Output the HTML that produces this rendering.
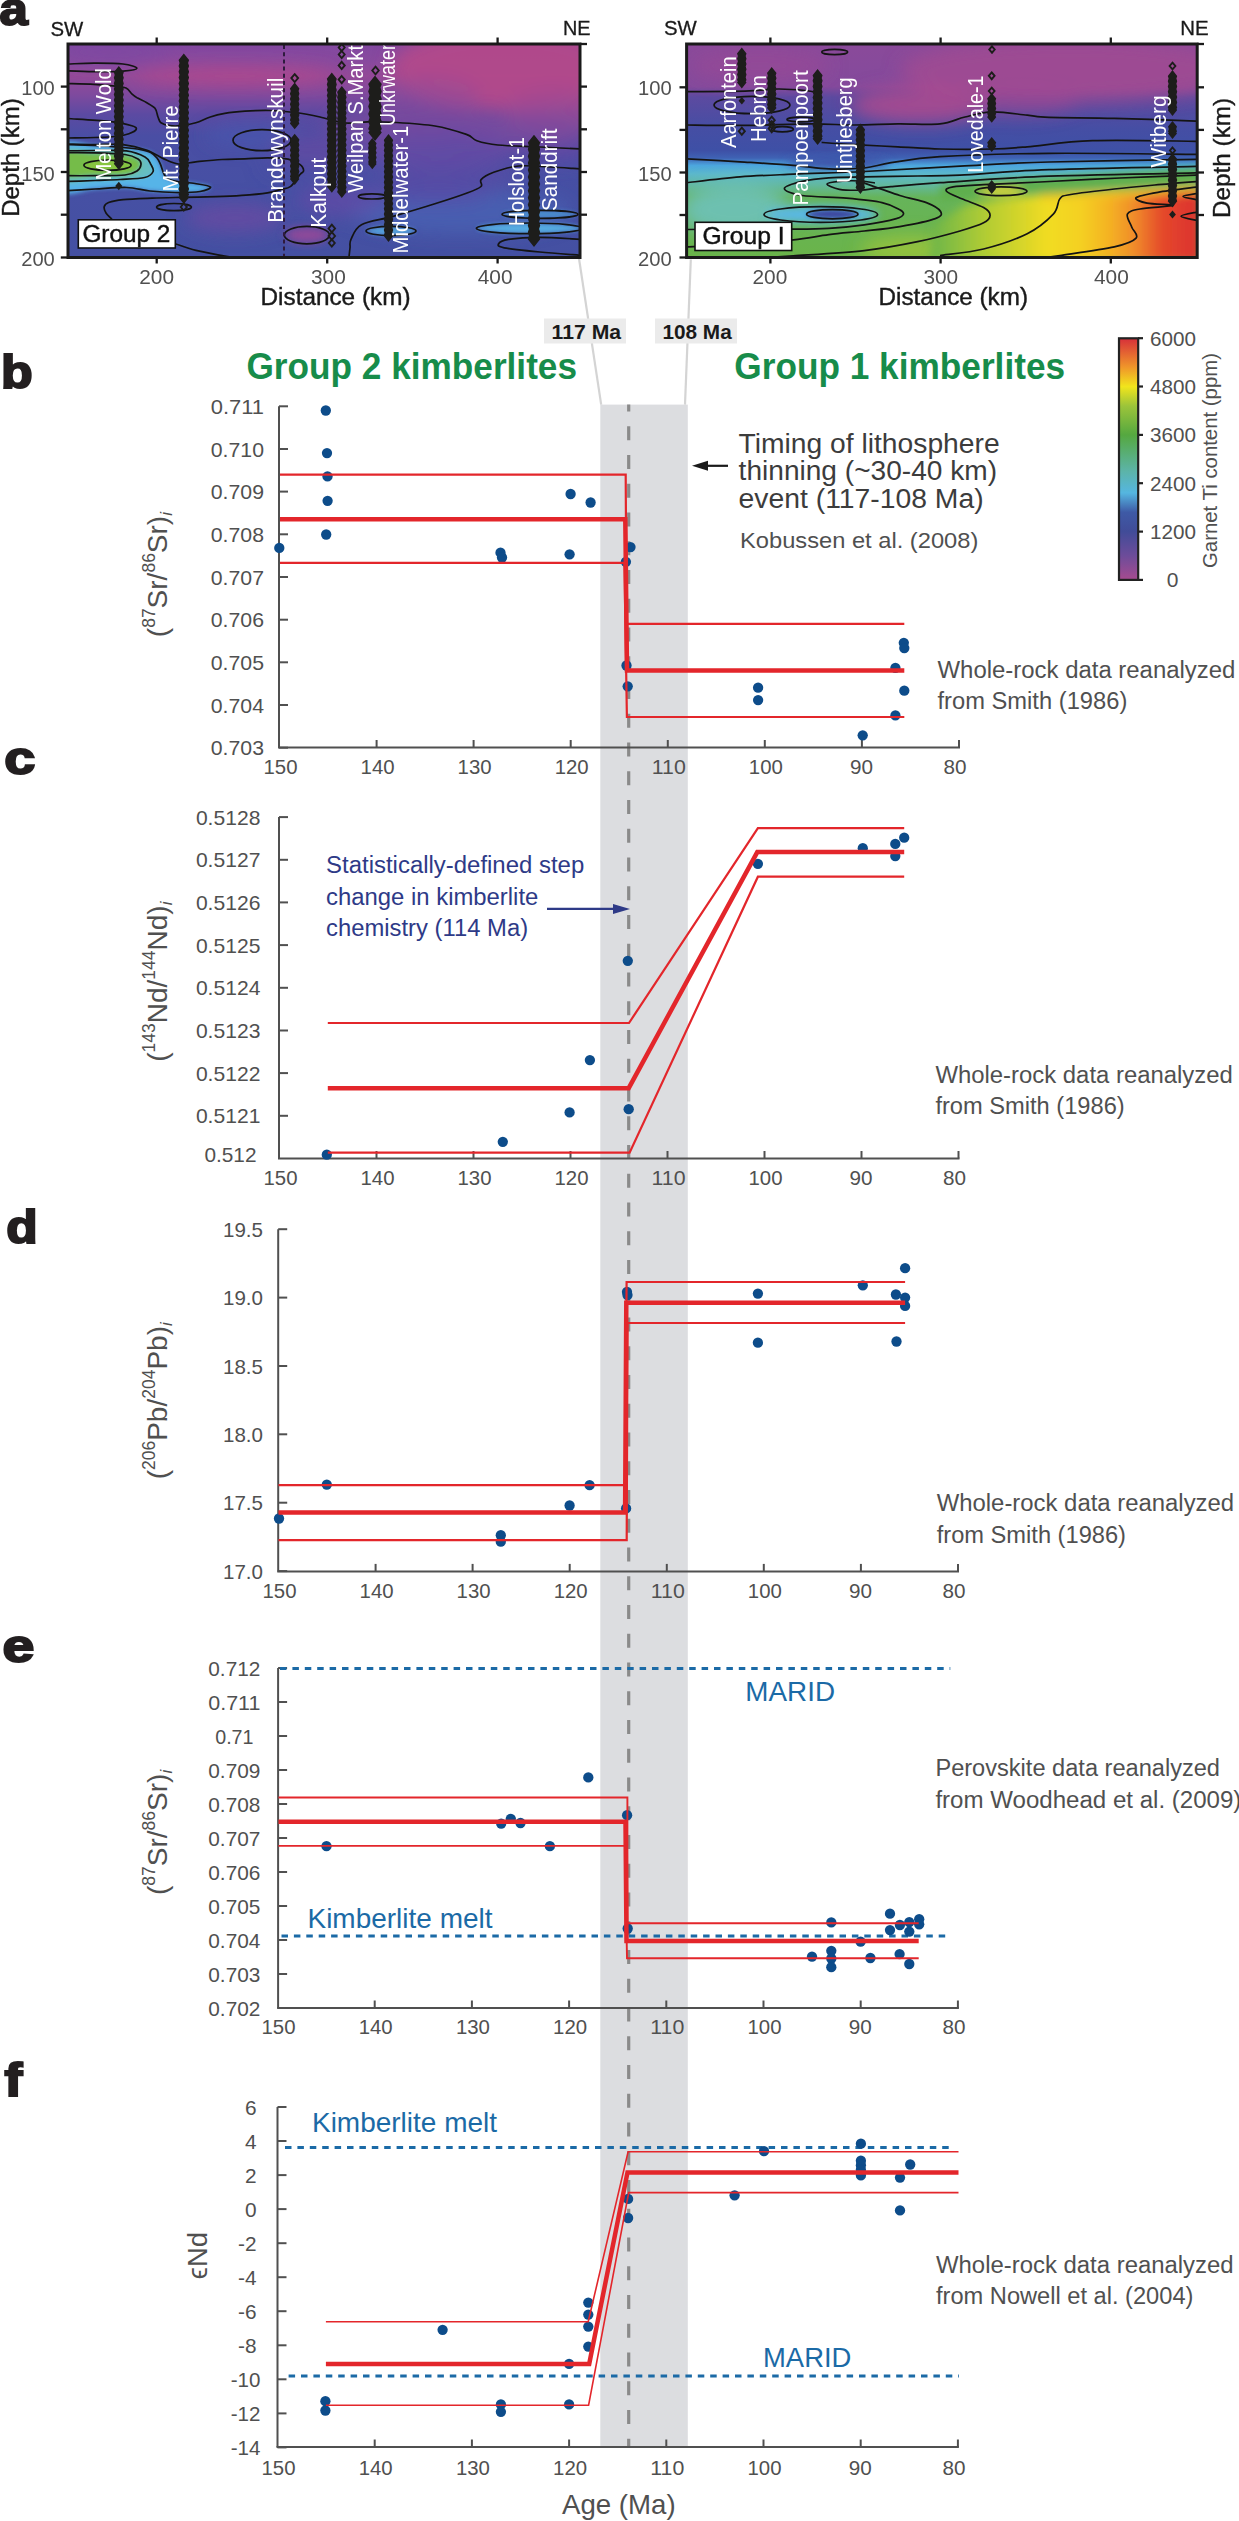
<!DOCTYPE html>
<html><head><meta charset="utf-8"><style>html,body{margin:0;padding:0;background:#fff;overflow:hidden;}svg{display:block;}</style></head><body>
<svg width="1239" height="2521" viewBox="0 0 1239 2521" font-family='"Liberation Sans", sans-serif'>
<rect width="1239" height="2521" fill="#fff"/>
<rect x="600.3" y="404.6" width="87.5" height="2042.4" fill="#dcdde0"/>
<line x1="579.0" y1="258.5" x2="601.2" y2="404.6" stroke="#d4d4d4" stroke-width="2.2" />
<line x1="690.8" y1="259.5" x2="685.0" y2="404.6" stroke="#d4d4d4" stroke-width="2.2" />
<rect x="544" y="318.5" width="82" height="25" fill="#ebebeb"/>
<rect x="655" y="318.5" width="82" height="25" fill="#ebebeb"/>
<text x="551.6" y="338.8" font-size="21" fill="#1a1a1a" font-weight="bold" text-anchor="start" textLength="69.5" lengthAdjust="spacingAndGlyphs" >117 Ma</text>
<text x="662.4" y="338.8" font-size="21" fill="#1a1a1a" font-weight="bold" text-anchor="start" textLength="69.3" lengthAdjust="spacingAndGlyphs" >108 Ma</text>
<line x1="628.7" y1="404.6" x2="628.7" y2="2447.0" stroke="#8a8a8a" stroke-width="3.2" stroke-dasharray="14 14.75" stroke-dashoffset="7.2"/>
<text x="246.5" y="378.8" font-size="37" fill="#178c4a" font-weight="bold" text-anchor="start" textLength="330.5" lengthAdjust="spacingAndGlyphs" >Group 2 kimberlites</text>
<text x="734.3" y="378.8" font-size="37" fill="#178c4a" font-weight="bold" text-anchor="start" textLength="330.8" lengthAdjust="spacingAndGlyphs" >Group 1 kimberlites</text>
<text transform="matrix(0.5088 0 0 0.4576 -0.51 25.23)" font-size="100" font-weight="bold" fill="#231f20" stroke="#231f20" stroke-width="4.5">a</text>
<text transform="matrix(0.5182 0 0 0.4679 1.03 388.00)" font-size="100" font-weight="bold" fill="#231f20" stroke="#231f20" stroke-width="4.5">b</text>
<text transform="matrix(0.5585 0 0 0.4559 4.18 774.43)" font-size="100" font-weight="bold" fill="#231f20" stroke="#231f20" stroke-width="4.5">c</text>
<text transform="matrix(0.5145 0 0 0.4564 6.27 1243.23)" font-size="100" font-weight="bold" fill="#231f20" stroke="#231f20" stroke-width="4.5">d</text>
<text transform="matrix(0.5731 0 0 0.4559 2.45 1661.53)" font-size="100" font-weight="bold" fill="#231f20" stroke="#231f20" stroke-width="4.5">e</text>
<text transform="matrix(0.5351 0 0 0.4688 4.44 2095.66)" font-size="100" font-weight="bold" fill="#231f20" stroke="#231f20" stroke-width="4.5">f</text>
<line x1="279.0" y1="406.3" x2="279.0" y2="747.5" stroke="#505050" stroke-width="2" />
<line x1="279.0" y1="406.3" x2="288.0" y2="406.3" stroke="#505050" stroke-width="2" />
<line x1="279.0" y1="449.0" x2="288.0" y2="449.0" stroke="#505050" stroke-width="2" />
<line x1="279.0" y1="491.6" x2="288.0" y2="491.6" stroke="#505050" stroke-width="2" />
<line x1="279.0" y1="534.3" x2="288.0" y2="534.3" stroke="#505050" stroke-width="2" />
<line x1="279.0" y1="577.0" x2="288.0" y2="577.0" stroke="#505050" stroke-width="2" />
<line x1="279.0" y1="619.7" x2="288.0" y2="619.7" stroke="#505050" stroke-width="2" />
<line x1="279.0" y1="662.3" x2="288.0" y2="662.3" stroke="#505050" stroke-width="2" />
<line x1="279.0" y1="705.0" x2="288.0" y2="705.0" stroke="#505050" stroke-width="2" />
<line x1="279.0" y1="747.7" x2="288.0" y2="747.7" stroke="#505050" stroke-width="2" />
<line x1="278.0" y1="747.5" x2="960.0" y2="747.5" stroke="#505050" stroke-width="2" />
<line x1="376.6" y1="747.5" x2="376.6" y2="740.0" stroke="#505050" stroke-width="2" />
<line x1="473.6" y1="747.5" x2="473.6" y2="740.0" stroke="#505050" stroke-width="2" />
<line x1="570.7" y1="747.5" x2="570.7" y2="740.0" stroke="#505050" stroke-width="2" />
<line x1="667.8" y1="747.5" x2="667.8" y2="740.0" stroke="#505050" stroke-width="2" />
<line x1="764.8" y1="747.5" x2="764.8" y2="740.0" stroke="#505050" stroke-width="2" />
<line x1="861.9" y1="747.5" x2="861.9" y2="740.0" stroke="#505050" stroke-width="2" />
<line x1="959.0" y1="747.5" x2="959.0" y2="740.0" stroke="#505050" stroke-width="2" />
<text x="280.5" y="773.5" font-size="20" fill="#505050" font-weight="normal" text-anchor="middle" textLength="34.0" lengthAdjust="spacingAndGlyphs" >150</text>
<text x="377.6" y="773.5" font-size="20" fill="#505050" font-weight="normal" text-anchor="middle" textLength="34.0" lengthAdjust="spacingAndGlyphs" >140</text>
<text x="474.6" y="773.5" font-size="20" fill="#505050" font-weight="normal" text-anchor="middle" textLength="34.0" lengthAdjust="spacingAndGlyphs" >130</text>
<text x="571.7" y="773.5" font-size="20" fill="#505050" font-weight="normal" text-anchor="middle" textLength="34.0" lengthAdjust="spacingAndGlyphs" >120</text>
<text x="668.8" y="773.5" font-size="20" fill="#505050" font-weight="normal" text-anchor="middle" textLength="34.0" lengthAdjust="spacingAndGlyphs" >110</text>
<text x="765.8" y="773.5" font-size="20" fill="#505050" font-weight="normal" text-anchor="middle" textLength="34.0" lengthAdjust="spacingAndGlyphs" >100</text>
<text x="861.4" y="773.5" font-size="20" fill="#505050" font-weight="normal" text-anchor="middle" textLength="23.0" lengthAdjust="spacingAndGlyphs" >90</text>
<text x="955.0" y="773.5" font-size="20" fill="#505050" font-weight="normal" text-anchor="middle" textLength="23.0" lengthAdjust="spacingAndGlyphs" >80</text>
<text x="210.8" y="413.9" font-size="21" fill="#505050" font-weight="normal" text-anchor="start" textLength="53.2" lengthAdjust="spacingAndGlyphs" >0.711</text>
<text x="210.8" y="456.6" font-size="21" fill="#505050" font-weight="normal" text-anchor="start" textLength="53.2" lengthAdjust="spacingAndGlyphs" >0.710</text>
<text x="210.8" y="499.2" font-size="21" fill="#505050" font-weight="normal" text-anchor="start" textLength="53.2" lengthAdjust="spacingAndGlyphs" >0.709</text>
<text x="210.8" y="541.9" font-size="21" fill="#505050" font-weight="normal" text-anchor="start" textLength="53.2" lengthAdjust="spacingAndGlyphs" >0.708</text>
<text x="210.8" y="584.6" font-size="21" fill="#505050" font-weight="normal" text-anchor="start" textLength="53.2" lengthAdjust="spacingAndGlyphs" >0.707</text>
<text x="210.8" y="627.3" font-size="21" fill="#505050" font-weight="normal" text-anchor="start" textLength="53.2" lengthAdjust="spacingAndGlyphs" >0.706</text>
<text x="210.8" y="669.9" font-size="21" fill="#505050" font-weight="normal" text-anchor="start" textLength="53.2" lengthAdjust="spacingAndGlyphs" >0.705</text>
<text x="210.8" y="712.6" font-size="21" fill="#505050" font-weight="normal" text-anchor="start" textLength="53.2" lengthAdjust="spacingAndGlyphs" >0.704</text>
<text x="210.8" y="755.3" font-size="21" fill="#505050" font-weight="normal" text-anchor="start" textLength="53.2" lengthAdjust="spacingAndGlyphs" >0.703</text>
<circle cx="325.8" cy="410.5" r="5.15" fill="#0d4c8a"/>
<circle cx="327.0" cy="453.1" r="5.15" fill="#0d4c8a"/>
<circle cx="327.5" cy="476.4" r="5.15" fill="#0d4c8a"/>
<circle cx="327.6" cy="500.8" r="5.15" fill="#0d4c8a"/>
<circle cx="326.2" cy="534.5" r="5.15" fill="#0d4c8a"/>
<circle cx="279.3" cy="547.9" r="5.15" fill="#0d4c8a"/>
<circle cx="500.5" cy="552.7" r="5.15" fill="#0d4c8a"/>
<circle cx="502.0" cy="557.5" r="5.15" fill="#0d4c8a"/>
<circle cx="570.6" cy="494.0" r="5.15" fill="#0d4c8a"/>
<circle cx="590.6" cy="502.5" r="5.15" fill="#0d4c8a"/>
<circle cx="569.6" cy="554.3" r="5.15" fill="#0d4c8a"/>
<circle cx="630.5" cy="547.1" r="5.15" fill="#0d4c8a"/>
<circle cx="625.9" cy="561.8" r="5.15" fill="#0d4c8a"/>
<circle cx="626.5" cy="665.5" r="5.15" fill="#0d4c8a"/>
<circle cx="627.7" cy="686.3" r="5.15" fill="#0d4c8a"/>
<circle cx="903.8" cy="642.8" r="5.15" fill="#0d4c8a"/>
<circle cx="904.3" cy="648.1" r="5.15" fill="#0d4c8a"/>
<circle cx="895.4" cy="667.8" r="5.15" fill="#0d4c8a"/>
<circle cx="904.3" cy="690.7" r="5.15" fill="#0d4c8a"/>
<circle cx="895.4" cy="715.4" r="5.15" fill="#0d4c8a"/>
<circle cx="758.1" cy="687.7" r="5.15" fill="#0d4c8a"/>
<circle cx="758.1" cy="700.1" r="5.15" fill="#0d4c8a"/>
<circle cx="862.7" cy="735.3" r="5.15" fill="#0d4c8a"/>
<polyline points="280.0,474.6 625.7,474.6 626.5,623.8 904.3,623.8" fill="none" stroke="#e3262b" stroke-width="2.2" stroke-linejoin="miter" />
<polyline points="280.0,562.8 624.4,562.8 626.9,717.0 904.3,717.0" fill="none" stroke="#e3262b" stroke-width="2.2" stroke-linejoin="miter" />
<polyline points="280.0,519.2 625.3,519.2 627.0,670.6 904.3,670.6" fill="none" stroke="#e3262b" stroke-width="4.5" stroke-linejoin="miter" />
<line x1="279.0" y1="817.1" x2="279.0" y2="1158.5" stroke="#505050" stroke-width="2" />
<line x1="279.0" y1="817.1" x2="288.0" y2="817.1" stroke="#505050" stroke-width="2" />
<line x1="279.0" y1="859.8" x2="288.0" y2="859.8" stroke="#505050" stroke-width="2" />
<line x1="279.0" y1="902.4" x2="288.0" y2="902.4" stroke="#505050" stroke-width="2" />
<line x1="279.0" y1="945.1" x2="288.0" y2="945.1" stroke="#505050" stroke-width="2" />
<line x1="279.0" y1="987.8" x2="288.0" y2="987.8" stroke="#505050" stroke-width="2" />
<line x1="279.0" y1="1030.5" x2="288.0" y2="1030.5" stroke="#505050" stroke-width="2" />
<line x1="279.0" y1="1073.1" x2="288.0" y2="1073.1" stroke="#505050" stroke-width="2" />
<line x1="279.0" y1="1115.8" x2="288.0" y2="1115.8" stroke="#505050" stroke-width="2" />
<line x1="278.0" y1="1158.5" x2="959.5" y2="1158.5" stroke="#505050" stroke-width="2" />
<line x1="376.5" y1="1158.5" x2="376.5" y2="1151.0" stroke="#505050" stroke-width="2" />
<line x1="473.5" y1="1158.5" x2="473.5" y2="1151.0" stroke="#505050" stroke-width="2" />
<line x1="570.5" y1="1158.5" x2="570.5" y2="1151.0" stroke="#505050" stroke-width="2" />
<line x1="667.5" y1="1158.5" x2="667.5" y2="1151.0" stroke="#505050" stroke-width="2" />
<line x1="764.5" y1="1158.5" x2="764.5" y2="1151.0" stroke="#505050" stroke-width="2" />
<line x1="861.5" y1="1158.5" x2="861.5" y2="1151.0" stroke="#505050" stroke-width="2" />
<line x1="958.5" y1="1158.5" x2="958.5" y2="1151.0" stroke="#505050" stroke-width="2" />
<text x="280.5" y="1185.0" font-size="20" fill="#505050" font-weight="normal" text-anchor="middle" textLength="34.0" lengthAdjust="spacingAndGlyphs" >150</text>
<text x="377.5" y="1185.0" font-size="20" fill="#505050" font-weight="normal" text-anchor="middle" textLength="34.0" lengthAdjust="spacingAndGlyphs" >140</text>
<text x="474.5" y="1185.0" font-size="20" fill="#505050" font-weight="normal" text-anchor="middle" textLength="34.0" lengthAdjust="spacingAndGlyphs" >130</text>
<text x="571.5" y="1185.0" font-size="20" fill="#505050" font-weight="normal" text-anchor="middle" textLength="34.0" lengthAdjust="spacingAndGlyphs" >120</text>
<text x="668.5" y="1185.0" font-size="20" fill="#505050" font-weight="normal" text-anchor="middle" textLength="34.0" lengthAdjust="spacingAndGlyphs" >110</text>
<text x="765.5" y="1185.0" font-size="20" fill="#505050" font-weight="normal" text-anchor="middle" textLength="34.0" lengthAdjust="spacingAndGlyphs" >100</text>
<text x="861.0" y="1185.0" font-size="20" fill="#505050" font-weight="normal" text-anchor="middle" textLength="23.0" lengthAdjust="spacingAndGlyphs" >90</text>
<text x="954.5" y="1185.0" font-size="20" fill="#505050" font-weight="normal" text-anchor="middle" textLength="23.0" lengthAdjust="spacingAndGlyphs" >80</text>
<text x="195.9" y="824.7" font-size="21" fill="#505050" font-weight="normal" text-anchor="start" textLength="64.5" lengthAdjust="spacingAndGlyphs" >0.5128</text>
<text x="195.9" y="867.4" font-size="21" fill="#505050" font-weight="normal" text-anchor="start" textLength="64.5" lengthAdjust="spacingAndGlyphs" >0.5127</text>
<text x="195.9" y="910.0" font-size="21" fill="#505050" font-weight="normal" text-anchor="start" textLength="64.5" lengthAdjust="spacingAndGlyphs" >0.5126</text>
<text x="195.9" y="952.7" font-size="21" fill="#505050" font-weight="normal" text-anchor="start" textLength="64.5" lengthAdjust="spacingAndGlyphs" >0.5125</text>
<text x="195.9" y="995.4" font-size="21" fill="#505050" font-weight="normal" text-anchor="start" textLength="64.5" lengthAdjust="spacingAndGlyphs" >0.5124</text>
<text x="195.9" y="1038.0" font-size="21" fill="#505050" font-weight="normal" text-anchor="start" textLength="64.5" lengthAdjust="spacingAndGlyphs" >0.5123</text>
<text x="195.9" y="1080.7" font-size="21" fill="#505050" font-weight="normal" text-anchor="start" textLength="64.5" lengthAdjust="spacingAndGlyphs" >0.5122</text>
<text x="195.9" y="1123.4" font-size="21" fill="#505050" font-weight="normal" text-anchor="start" textLength="64.5" lengthAdjust="spacingAndGlyphs" >0.5121</text>
<text x="204.4" y="1162.1" font-size="21" fill="#505050" font-weight="normal" text-anchor="start" textLength="52.1" lengthAdjust="spacingAndGlyphs" >0.512</text>
<circle cx="326.8" cy="1154.7" r="5.15" fill="#0d4c8a"/>
<circle cx="502.8" cy="1141.8" r="5.15" fill="#0d4c8a"/>
<circle cx="569.6" cy="1112.4" r="5.15" fill="#0d4c8a"/>
<circle cx="589.9" cy="1060.1" r="5.15" fill="#0d4c8a"/>
<circle cx="628.7" cy="1109.2" r="5.15" fill="#0d4c8a"/>
<circle cx="627.8" cy="960.8" r="5.15" fill="#0d4c8a"/>
<circle cx="757.9" cy="863.8" r="5.15" fill="#0d4c8a"/>
<circle cx="862.8" cy="848.2" r="5.15" fill="#0d4c8a"/>
<circle cx="895.3" cy="843.9" r="5.15" fill="#0d4c8a"/>
<circle cx="904.2" cy="837.7" r="5.15" fill="#0d4c8a"/>
<circle cx="895.3" cy="856.1" r="5.15" fill="#0d4c8a"/>
<polyline points="327.8,1023.0 629.0,1023.0 757.9,828.2 904.2,828.2" fill="none" stroke="#e3262b" stroke-width="2.2" stroke-linejoin="miter" />
<polyline points="327.8,1152.7 629.6,1152.7 757.9,876.7 904.2,876.7" fill="none" stroke="#e3262b" stroke-width="2.2" stroke-linejoin="miter" />
<polyline points="327.8,1088.2 628.7,1088.2 757.3,852.1 904.2,852.1" fill="none" stroke="#e3262b" stroke-width="4.5" stroke-linejoin="miter" />
<line x1="278.2" y1="1229.2" x2="278.2" y2="1571.4" stroke="#505050" stroke-width="2" />
<line x1="278.2" y1="1229.2" x2="287.2" y2="1229.2" stroke="#505050" stroke-width="2" />
<line x1="278.2" y1="1297.6" x2="287.2" y2="1297.6" stroke="#505050" stroke-width="2" />
<line x1="278.2" y1="1366.0" x2="287.2" y2="1366.0" stroke="#505050" stroke-width="2" />
<line x1="278.2" y1="1434.3" x2="287.2" y2="1434.3" stroke="#505050" stroke-width="2" />
<line x1="278.2" y1="1502.7" x2="287.2" y2="1502.7" stroke="#505050" stroke-width="2" />
<line x1="278.2" y1="1571.1" x2="287.2" y2="1571.1" stroke="#505050" stroke-width="2" />
<line x1="277.2" y1="1571.4" x2="959.0" y2="1571.4" stroke="#505050" stroke-width="2" />
<line x1="375.6" y1="1571.4" x2="375.6" y2="1563.9" stroke="#505050" stroke-width="2" />
<line x1="472.6" y1="1571.4" x2="472.6" y2="1563.9" stroke="#505050" stroke-width="2" />
<line x1="569.7" y1="1571.4" x2="569.7" y2="1563.9" stroke="#505050" stroke-width="2" />
<line x1="666.8" y1="1571.4" x2="666.8" y2="1563.9" stroke="#505050" stroke-width="2" />
<line x1="763.8" y1="1571.4" x2="763.8" y2="1563.9" stroke="#505050" stroke-width="2" />
<line x1="860.9" y1="1571.4" x2="860.9" y2="1563.9" stroke="#505050" stroke-width="2" />
<line x1="958.0" y1="1571.4" x2="958.0" y2="1563.9" stroke="#505050" stroke-width="2" />
<text x="279.5" y="1597.5" font-size="20" fill="#505050" font-weight="normal" text-anchor="middle" textLength="34.0" lengthAdjust="spacingAndGlyphs" >150</text>
<text x="376.6" y="1597.5" font-size="20" fill="#505050" font-weight="normal" text-anchor="middle" textLength="34.0" lengthAdjust="spacingAndGlyphs" >140</text>
<text x="473.6" y="1597.5" font-size="20" fill="#505050" font-weight="normal" text-anchor="middle" textLength="34.0" lengthAdjust="spacingAndGlyphs" >130</text>
<text x="570.7" y="1597.5" font-size="20" fill="#505050" font-weight="normal" text-anchor="middle" textLength="34.0" lengthAdjust="spacingAndGlyphs" >120</text>
<text x="667.8" y="1597.5" font-size="20" fill="#505050" font-weight="normal" text-anchor="middle" textLength="34.0" lengthAdjust="spacingAndGlyphs" >110</text>
<text x="764.8" y="1597.5" font-size="20" fill="#505050" font-weight="normal" text-anchor="middle" textLength="34.0" lengthAdjust="spacingAndGlyphs" >100</text>
<text x="860.4" y="1597.5" font-size="20" fill="#505050" font-weight="normal" text-anchor="middle" textLength="23.0" lengthAdjust="spacingAndGlyphs" >90</text>
<text x="954.0" y="1597.5" font-size="20" fill="#505050" font-weight="normal" text-anchor="middle" textLength="23.0" lengthAdjust="spacingAndGlyphs" >80</text>
<text x="223.0" y="1236.8" font-size="21" fill="#505050" font-weight="normal" text-anchor="start" textLength="40.0" lengthAdjust="spacingAndGlyphs" >19.5</text>
<text x="223.0" y="1305.2" font-size="21" fill="#505050" font-weight="normal" text-anchor="start" textLength="40.0" lengthAdjust="spacingAndGlyphs" >19.0</text>
<text x="223.0" y="1373.6" font-size="21" fill="#505050" font-weight="normal" text-anchor="start" textLength="40.0" lengthAdjust="spacingAndGlyphs" >18.5</text>
<text x="223.0" y="1441.9" font-size="21" fill="#505050" font-weight="normal" text-anchor="start" textLength="40.0" lengthAdjust="spacingAndGlyphs" >18.0</text>
<text x="223.0" y="1510.3" font-size="21" fill="#505050" font-weight="normal" text-anchor="start" textLength="40.0" lengthAdjust="spacingAndGlyphs" >17.5</text>
<text x="223.0" y="1578.7" font-size="21" fill="#505050" font-weight="normal" text-anchor="start" textLength="40.0" lengthAdjust="spacingAndGlyphs" >17.0</text>
<circle cx="279.0" cy="1518.5" r="5.15" fill="#0d4c8a"/>
<circle cx="326.8" cy="1484.6" r="5.15" fill="#0d4c8a"/>
<circle cx="500.8" cy="1535.2" r="5.15" fill="#0d4c8a"/>
<circle cx="500.8" cy="1541.7" r="5.15" fill="#0d4c8a"/>
<circle cx="569.6" cy="1505.5" r="5.15" fill="#0d4c8a"/>
<circle cx="589.6" cy="1485.2" r="5.15" fill="#0d4c8a"/>
<circle cx="626.1" cy="1508.4" r="5.15" fill="#0d4c8a"/>
<circle cx="627.0" cy="1292.0" r="5.15" fill="#0d4c8a"/>
<circle cx="627.5" cy="1295.1" r="5.15" fill="#0d4c8a"/>
<circle cx="757.9" cy="1293.6" r="5.15" fill="#0d4c8a"/>
<circle cx="757.9" cy="1342.7" r="5.15" fill="#0d4c8a"/>
<circle cx="862.8" cy="1285.3" r="5.15" fill="#0d4c8a"/>
<circle cx="905.1" cy="1268.2" r="5.15" fill="#0d4c8a"/>
<circle cx="895.9" cy="1294.5" r="5.15" fill="#0d4c8a"/>
<circle cx="905.1" cy="1297.6" r="5.15" fill="#0d4c8a"/>
<circle cx="905.1" cy="1305.9" r="5.15" fill="#0d4c8a"/>
<circle cx="896.5" cy="1341.5" r="5.15" fill="#0d4c8a"/>
<polyline points="278.5,1485.2 625.1,1485.2 626.6,1282.0 905.1,1282.0" fill="none" stroke="#e3262b" stroke-width="2.2" stroke-linejoin="miter" />
<polyline points="278.5,1540.1 626.7,1540.1 627.5,1323.0 905.1,1323.0" fill="none" stroke="#e3262b" stroke-width="2.2" stroke-linejoin="miter" />
<polyline points="278.5,1512.6 625.1,1512.6 626.3,1302.8 905.1,1302.8" fill="none" stroke="#e3262b" stroke-width="4.5" stroke-linejoin="miter" />
<line x1="278.1" y1="1668.0" x2="278.1" y2="2008.0" stroke="#505050" stroke-width="2" />
<line x1="278.1" y1="1668.0" x2="287.1" y2="1668.0" stroke="#505050" stroke-width="2" />
<line x1="278.1" y1="1702.0" x2="287.1" y2="1702.0" stroke="#505050" stroke-width="2" />
<line x1="278.1" y1="1736.0" x2="287.1" y2="1736.0" stroke="#505050" stroke-width="2" />
<line x1="278.1" y1="1770.0" x2="287.1" y2="1770.0" stroke="#505050" stroke-width="2" />
<line x1="278.1" y1="1804.0" x2="287.1" y2="1804.0" stroke="#505050" stroke-width="2" />
<line x1="278.1" y1="1838.0" x2="287.1" y2="1838.0" stroke="#505050" stroke-width="2" />
<line x1="278.1" y1="1872.0" x2="287.1" y2="1872.0" stroke="#505050" stroke-width="2" />
<line x1="278.1" y1="1906.0" x2="287.1" y2="1906.0" stroke="#505050" stroke-width="2" />
<line x1="278.1" y1="1940.0" x2="287.1" y2="1940.0" stroke="#505050" stroke-width="2" />
<line x1="278.1" y1="1974.0" x2="287.1" y2="1974.0" stroke="#505050" stroke-width="2" />
<line x1="278.1" y1="2008.0" x2="287.1" y2="2008.0" stroke="#505050" stroke-width="2" />
<line x1="277.1" y1="2008.0" x2="958.9" y2="2008.0" stroke="#505050" stroke-width="2" />
<line x1="374.7" y1="2008.0" x2="374.7" y2="2000.5" stroke="#505050" stroke-width="2" />
<line x1="471.9" y1="2008.0" x2="471.9" y2="2000.5" stroke="#505050" stroke-width="2" />
<line x1="569.1" y1="2008.0" x2="569.1" y2="2000.5" stroke="#505050" stroke-width="2" />
<line x1="666.3" y1="2008.0" x2="666.3" y2="2000.5" stroke="#505050" stroke-width="2" />
<line x1="763.5" y1="2008.0" x2="763.5" y2="2000.5" stroke="#505050" stroke-width="2" />
<line x1="860.7" y1="2008.0" x2="860.7" y2="2000.5" stroke="#505050" stroke-width="2" />
<line x1="957.9" y1="2008.0" x2="957.9" y2="2000.5" stroke="#505050" stroke-width="2" />
<text x="278.5" y="2034.0" font-size="20" fill="#505050" font-weight="normal" text-anchor="middle" textLength="34.0" lengthAdjust="spacingAndGlyphs" >150</text>
<text x="375.7" y="2034.0" font-size="20" fill="#505050" font-weight="normal" text-anchor="middle" textLength="34.0" lengthAdjust="spacingAndGlyphs" >140</text>
<text x="472.9" y="2034.0" font-size="20" fill="#505050" font-weight="normal" text-anchor="middle" textLength="34.0" lengthAdjust="spacingAndGlyphs" >130</text>
<text x="570.1" y="2034.0" font-size="20" fill="#505050" font-weight="normal" text-anchor="middle" textLength="34.0" lengthAdjust="spacingAndGlyphs" >120</text>
<text x="667.3" y="2034.0" font-size="20" fill="#505050" font-weight="normal" text-anchor="middle" textLength="34.0" lengthAdjust="spacingAndGlyphs" >110</text>
<text x="764.5" y="2034.0" font-size="20" fill="#505050" font-weight="normal" text-anchor="middle" textLength="34.0" lengthAdjust="spacingAndGlyphs" >100</text>
<text x="860.2" y="2034.0" font-size="20" fill="#505050" font-weight="normal" text-anchor="middle" textLength="23.0" lengthAdjust="spacingAndGlyphs" >90</text>
<text x="953.9" y="2034.0" font-size="20" fill="#505050" font-weight="normal" text-anchor="middle" textLength="23.0" lengthAdjust="spacingAndGlyphs" >80</text>
<text x="208.3" y="1675.6" font-size="21" fill="#505050" font-weight="normal" text-anchor="start" textLength="52.1" lengthAdjust="spacingAndGlyphs" >0.712</text>
<text x="208.3" y="1709.6" font-size="21" fill="#505050" font-weight="normal" text-anchor="start" textLength="52.1" lengthAdjust="spacingAndGlyphs" >0.711</text>
<text x="215.2" y="1743.6" font-size="21" fill="#505050" font-weight="normal" text-anchor="start" textLength="38.3" lengthAdjust="spacingAndGlyphs" >0.71</text>
<text x="208.3" y="1777.6" font-size="21" fill="#505050" font-weight="normal" text-anchor="start" textLength="52.1" lengthAdjust="spacingAndGlyphs" >0.709</text>
<text x="208.3" y="1811.6" font-size="21" fill="#505050" font-weight="normal" text-anchor="start" textLength="52.1" lengthAdjust="spacingAndGlyphs" >0.708</text>
<text x="208.3" y="1845.6" font-size="21" fill="#505050" font-weight="normal" text-anchor="start" textLength="52.1" lengthAdjust="spacingAndGlyphs" >0.707</text>
<text x="208.3" y="1879.6" font-size="21" fill="#505050" font-weight="normal" text-anchor="start" textLength="52.1" lengthAdjust="spacingAndGlyphs" >0.706</text>
<text x="208.3" y="1913.6" font-size="21" fill="#505050" font-weight="normal" text-anchor="start" textLength="52.1" lengthAdjust="spacingAndGlyphs" >0.705</text>
<text x="208.3" y="1947.6" font-size="21" fill="#505050" font-weight="normal" text-anchor="start" textLength="52.1" lengthAdjust="spacingAndGlyphs" >0.704</text>
<text x="208.3" y="1981.6" font-size="21" fill="#505050" font-weight="normal" text-anchor="start" textLength="52.1" lengthAdjust="spacingAndGlyphs" >0.703</text>
<text x="208.3" y="2015.6" font-size="21" fill="#505050" font-weight="normal" text-anchor="start" textLength="52.1" lengthAdjust="spacingAndGlyphs" >0.702</text>
<line x1="280.0" y1="1668.4" x2="950.3" y2="1668.4" stroke="#1b6aa6" stroke-width="3" stroke-dasharray="6.5 5.9"/>
<line x1="281.5" y1="1936.0" x2="948.0" y2="1936.0" stroke="#1b6aa6" stroke-width="3" stroke-dasharray="6.5 5.9"/>
<circle cx="326.5" cy="1846.2" r="5.15" fill="#0d4c8a"/>
<circle cx="501.2" cy="1823.6" r="5.15" fill="#0d4c8a"/>
<circle cx="510.8" cy="1818.8" r="5.15" fill="#0d4c8a"/>
<circle cx="520.5" cy="1823.0" r="5.15" fill="#0d4c8a"/>
<circle cx="549.9" cy="1846.2" r="5.15" fill="#0d4c8a"/>
<circle cx="588.3" cy="1777.4" r="5.15" fill="#0d4c8a"/>
<circle cx="627.1" cy="1815.2" r="5.15" fill="#0d4c8a"/>
<circle cx="627.7" cy="1928.5" r="5.15" fill="#0d4c8a"/>
<circle cx="831.3" cy="1922.4" r="5.15" fill="#0d4c8a"/>
<circle cx="890.0" cy="1913.7" r="5.15" fill="#0d4c8a"/>
<circle cx="890.0" cy="1930.1" r="5.15" fill="#0d4c8a"/>
<circle cx="899.9" cy="1925.0" r="5.15" fill="#0d4c8a"/>
<circle cx="909.3" cy="1922.1" r="5.15" fill="#0d4c8a"/>
<circle cx="909.3" cy="1931.6" r="5.15" fill="#0d4c8a"/>
<circle cx="919.2" cy="1919.2" r="5.15" fill="#0d4c8a"/>
<circle cx="919.2" cy="1924.3" r="5.15" fill="#0d4c8a"/>
<circle cx="860.6" cy="1941.7" r="5.15" fill="#0d4c8a"/>
<circle cx="812.0" cy="1956.6" r="5.15" fill="#0d4c8a"/>
<circle cx="831.3" cy="1950.8" r="5.15" fill="#0d4c8a"/>
<circle cx="831.3" cy="1958.5" r="5.15" fill="#0d4c8a"/>
<circle cx="831.3" cy="1967.2" r="5.15" fill="#0d4c8a"/>
<circle cx="870.4" cy="1958.0" r="5.15" fill="#0d4c8a"/>
<circle cx="899.6" cy="1954.1" r="5.15" fill="#0d4c8a"/>
<circle cx="909.3" cy="1964.0" r="5.15" fill="#0d4c8a"/>
<polyline points="278.5,1797.5 627.4,1797.5 627.4,1923.3 918.7,1923.3" fill="none" stroke="#e3262b" stroke-width="1.9" stroke-linejoin="miter" />
<polyline points="278.5,1845.9 625.0,1845.9 627.0,1958.2 918.7,1958.2" fill="none" stroke="#e3262b" stroke-width="1.9" stroke-linejoin="miter" />
<polyline points="278.5,1821.7 625.5,1821.7 626.5,1941.0 918.7,1941.0" fill="none" stroke="#e3262b" stroke-width="4.5" stroke-linejoin="miter" />
<text x="745.3" y="1701.3" font-size="27.5" fill="#1b6aa6" font-weight="normal" text-anchor="start" textLength="89.7" lengthAdjust="spacingAndGlyphs" >MARID</text>
<text x="307.5" y="1927.5" font-size="28" fill="#1b6aa6" font-weight="normal" text-anchor="start" textLength="185.0" lengthAdjust="spacingAndGlyphs" >Kimberlite melt</text>
<line x1="277.5" y1="2107.0" x2="277.5" y2="2447.0" stroke="#505050" stroke-width="2" />
<line x1="277.5" y1="2107.0" x2="286.5" y2="2107.0" stroke="#505050" stroke-width="2" />
<line x1="277.5" y1="2141.0" x2="286.5" y2="2141.0" stroke="#505050" stroke-width="2" />
<line x1="277.5" y1="2175.1" x2="286.5" y2="2175.1" stroke="#505050" stroke-width="2" />
<line x1="277.5" y1="2209.1" x2="286.5" y2="2209.1" stroke="#505050" stroke-width="2" />
<line x1="277.5" y1="2243.2" x2="286.5" y2="2243.2" stroke="#505050" stroke-width="2" />
<line x1="277.5" y1="2277.2" x2="286.5" y2="2277.2" stroke="#505050" stroke-width="2" />
<line x1="277.5" y1="2311.2" x2="286.5" y2="2311.2" stroke="#505050" stroke-width="2" />
<line x1="277.5" y1="2345.3" x2="286.5" y2="2345.3" stroke="#505050" stroke-width="2" />
<line x1="277.5" y1="2379.3" x2="286.5" y2="2379.3" stroke="#505050" stroke-width="2" />
<line x1="277.5" y1="2413.4" x2="286.5" y2="2413.4" stroke="#505050" stroke-width="2" />
<line x1="277.5" y1="2447.4" x2="286.5" y2="2447.4" stroke="#505050" stroke-width="2" />
<line x1="276.5" y1="2447.0" x2="958.9" y2="2447.0" stroke="#505050" stroke-width="2" />
<line x1="374.7" y1="2447.0" x2="374.7" y2="2439.5" stroke="#505050" stroke-width="2" />
<line x1="471.9" y1="2447.0" x2="471.9" y2="2439.5" stroke="#505050" stroke-width="2" />
<line x1="569.1" y1="2447.0" x2="569.1" y2="2439.5" stroke="#505050" stroke-width="2" />
<line x1="666.3" y1="2447.0" x2="666.3" y2="2439.5" stroke="#505050" stroke-width="2" />
<line x1="763.5" y1="2447.0" x2="763.5" y2="2439.5" stroke="#505050" stroke-width="2" />
<line x1="860.7" y1="2447.0" x2="860.7" y2="2439.5" stroke="#505050" stroke-width="2" />
<line x1="957.9" y1="2447.0" x2="957.9" y2="2439.5" stroke="#505050" stroke-width="2" />
<text x="278.5" y="2474.5" font-size="20" fill="#505050" font-weight="normal" text-anchor="middle" textLength="34.0" lengthAdjust="spacingAndGlyphs" >150</text>
<text x="375.7" y="2474.5" font-size="20" fill="#505050" font-weight="normal" text-anchor="middle" textLength="34.0" lengthAdjust="spacingAndGlyphs" >140</text>
<text x="472.9" y="2474.5" font-size="20" fill="#505050" font-weight="normal" text-anchor="middle" textLength="34.0" lengthAdjust="spacingAndGlyphs" >130</text>
<text x="570.1" y="2474.5" font-size="20" fill="#505050" font-weight="normal" text-anchor="middle" textLength="34.0" lengthAdjust="spacingAndGlyphs" >120</text>
<text x="667.3" y="2474.5" font-size="20" fill="#505050" font-weight="normal" text-anchor="middle" textLength="34.0" lengthAdjust="spacingAndGlyphs" >110</text>
<text x="764.5" y="2474.5" font-size="20" fill="#505050" font-weight="normal" text-anchor="middle" textLength="34.0" lengthAdjust="spacingAndGlyphs" >100</text>
<text x="860.2" y="2474.5" font-size="20" fill="#505050" font-weight="normal" text-anchor="middle" textLength="23.0" lengthAdjust="spacingAndGlyphs" >90</text>
<text x="953.9" y="2474.5" font-size="20" fill="#505050" font-weight="normal" text-anchor="middle" textLength="23.0" lengthAdjust="spacingAndGlyphs" >80</text>
<text x="244.9" y="2114.6" font-size="21" fill="#505050" font-weight="normal" text-anchor="start" textLength="11.6" lengthAdjust="spacingAndGlyphs" >6</text>
<text x="244.9" y="2148.6" font-size="21" fill="#505050" font-weight="normal" text-anchor="start" textLength="11.6" lengthAdjust="spacingAndGlyphs" >4</text>
<text x="244.9" y="2182.7" font-size="21" fill="#505050" font-weight="normal" text-anchor="start" textLength="11.6" lengthAdjust="spacingAndGlyphs" >2</text>
<text x="244.9" y="2216.7" font-size="21" fill="#505050" font-weight="normal" text-anchor="start" textLength="11.6" lengthAdjust="spacingAndGlyphs" >0</text>
<text x="238.0" y="2250.8" font-size="21" fill="#505050" font-weight="normal" text-anchor="start" textLength="18.5" lengthAdjust="spacingAndGlyphs" >-2</text>
<text x="238.0" y="2284.8" font-size="21" fill="#505050" font-weight="normal" text-anchor="start" textLength="18.5" lengthAdjust="spacingAndGlyphs" >-4</text>
<text x="238.0" y="2318.8" font-size="21" fill="#505050" font-weight="normal" text-anchor="start" textLength="18.5" lengthAdjust="spacingAndGlyphs" >-6</text>
<text x="238.0" y="2352.9" font-size="21" fill="#505050" font-weight="normal" text-anchor="start" textLength="18.5" lengthAdjust="spacingAndGlyphs" >-8</text>
<text x="230.7" y="2386.9" font-size="21" fill="#505050" font-weight="normal" text-anchor="start" textLength="29.7" lengthAdjust="spacingAndGlyphs" >-10</text>
<text x="230.7" y="2421.0" font-size="21" fill="#505050" font-weight="normal" text-anchor="start" textLength="29.7" lengthAdjust="spacingAndGlyphs" >-12</text>
<text x="230.7" y="2455.0" font-size="21" fill="#505050" font-weight="normal" text-anchor="start" textLength="29.7" lengthAdjust="spacingAndGlyphs" >-14</text>
<line x1="285.0" y1="2147.5" x2="950.0" y2="2147.5" stroke="#1b6aa6" stroke-width="3" stroke-dasharray="6.5 5.9"/>
<line x1="288.6" y1="2375.9" x2="959.0" y2="2375.9" stroke="#1b6aa6" stroke-width="3" stroke-dasharray="6.5 5.9"/>
<circle cx="325.4" cy="2401.2" r="5.15" fill="#0d4c8a"/>
<circle cx="325.4" cy="2410.5" r="5.15" fill="#0d4c8a"/>
<circle cx="442.6" cy="2329.8" r="5.15" fill="#0d4c8a"/>
<circle cx="500.9" cy="2404.4" r="5.15" fill="#0d4c8a"/>
<circle cx="500.9" cy="2411.8" r="5.15" fill="#0d4c8a"/>
<circle cx="569.1" cy="2363.9" r="5.15" fill="#0d4c8a"/>
<circle cx="569.1" cy="2404.4" r="5.15" fill="#0d4c8a"/>
<circle cx="588.3" cy="2302.6" r="5.15" fill="#0d4c8a"/>
<circle cx="588.3" cy="2314.6" r="5.15" fill="#0d4c8a"/>
<circle cx="588.3" cy="2326.6" r="5.15" fill="#0d4c8a"/>
<circle cx="588.3" cy="2346.6" r="5.15" fill="#0d4c8a"/>
<circle cx="628.1" cy="2198.9" r="5.15" fill="#0d4c8a"/>
<circle cx="628.1" cy="2218.0" r="5.15" fill="#0d4c8a"/>
<circle cx="764.0" cy="2151.2" r="5.15" fill="#0d4c8a"/>
<circle cx="860.9" cy="2143.7" r="5.15" fill="#0d4c8a"/>
<circle cx="860.9" cy="2160.7" r="5.15" fill="#0d4c8a"/>
<circle cx="860.9" cy="2165.2" r="5.15" fill="#0d4c8a"/>
<circle cx="860.9" cy="2169.7" r="5.15" fill="#0d4c8a"/>
<circle cx="860.9" cy="2175.4" r="5.15" fill="#0d4c8a"/>
<circle cx="910.2" cy="2164.5" r="5.15" fill="#0d4c8a"/>
<circle cx="900.0" cy="2177.6" r="5.15" fill="#0d4c8a"/>
<circle cx="900.0" cy="2210.4" r="5.15" fill="#0d4c8a"/>
<circle cx="734.6" cy="2195.3" r="5.15" fill="#0d4c8a"/>
<polyline points="325.9,2321.8 588.2,2321.8 628.1,2151.8 958.5,2151.8" fill="none" stroke="#e3262b" stroke-width="1.6" stroke-linejoin="miter" />
<polyline points="325.9,2405.2 588.6,2405.2 628.7,2192.6 958.5,2192.6" fill="none" stroke="#e3262b" stroke-width="1.6" stroke-linejoin="miter" />
<polyline points="325.9,2363.9 589.2,2363.9 627.5,2172.4 958.5,2172.4" fill="none" stroke="#e3262b" stroke-width="4.5" stroke-linejoin="miter" />
<text x="312.0" y="2132.3" font-size="28" fill="#1b6aa6" font-weight="normal" text-anchor="start" textLength="185.0" lengthAdjust="spacingAndGlyphs" >Kimberlite melt</text>
<text x="763.0" y="2367.0" font-size="27.5" fill="#1b6aa6" font-weight="normal" text-anchor="start" textLength="88.4" lengthAdjust="spacingAndGlyphs" >MARID</text>
<text x="562.0" y="2513.7" font-size="27.5" fill="#505050" font-weight="normal" text-anchor="start" textLength="113.7" lengthAdjust="spacingAndGlyphs" >Age (Ma)</text>
<text x="937.5" y="678.1" font-size="23.5" fill="#505050" font-weight="normal" text-anchor="start" textLength="297.9" lengthAdjust="spacingAndGlyphs" >Whole-rock data reanalyzed</text>
<text x="937.5" y="709.0" font-size="23.5" fill="#505050" font-weight="normal" text-anchor="start" textLength="189.8" lengthAdjust="spacingAndGlyphs" >from Smith (1986)</text>
<text x="935.4" y="1083.0" font-size="23.5" fill="#505050" font-weight="normal" text-anchor="start" textLength="297.4" lengthAdjust="spacingAndGlyphs" >Whole-rock data reanalyzed</text>
<text x="935.4" y="1113.9" font-size="23.5" fill="#505050" font-weight="normal" text-anchor="start" textLength="189.3" lengthAdjust="spacingAndGlyphs" >from Smith (1986)</text>
<text x="936.7" y="1510.9" font-size="23.5" fill="#505050" font-weight="normal" text-anchor="start" textLength="297.4" lengthAdjust="spacingAndGlyphs" >Whole-rock data reanalyzed</text>
<text x="936.7" y="1542.6" font-size="23.5" fill="#505050" font-weight="normal" text-anchor="start" textLength="189.3" lengthAdjust="spacingAndGlyphs" >from Smith (1986)</text>
<text x="935.4" y="1776.0" font-size="23.5" fill="#505050" font-weight="normal" text-anchor="start" textLength="284.6" lengthAdjust="spacingAndGlyphs" >Perovskite data reanalyzed</text>
<text x="935.4" y="1807.5" font-size="23.5" fill="#505050" font-weight="normal" text-anchor="start" textLength="306.0" lengthAdjust="spacingAndGlyphs" >from Woodhead et al. (2009)</text>
<text x="936.0" y="2273.0" font-size="23.5" fill="#505050" font-weight="normal" text-anchor="start" textLength="297.6" lengthAdjust="spacingAndGlyphs" >Whole-rock data reanalyzed</text>
<text x="936.0" y="2303.9" font-size="23.5" fill="#505050" font-weight="normal" text-anchor="start" textLength="257.4" lengthAdjust="spacingAndGlyphs" >from Nowell et al. (2004)</text>
<text x="738.6" y="452.5" font-size="27" fill="#3c3c3c" font-weight="normal" text-anchor="start" textLength="261.0" lengthAdjust="spacingAndGlyphs" >Timing of lithosphere</text>
<text x="738.6" y="480.0" font-size="27" fill="#3c3c3c" font-weight="normal" text-anchor="start" textLength="258.4" lengthAdjust="spacingAndGlyphs" >thinning (~30-40 km)</text>
<text x="738.6" y="507.9" font-size="27" fill="#3c3c3c" font-weight="normal" text-anchor="start" textLength="245.0" lengthAdjust="spacingAndGlyphs" >event (117-108 Ma)</text>
<text x="740.0" y="548.4" font-size="22.5" fill="#505050" font-weight="normal" text-anchor="start" textLength="238.3" lengthAdjust="spacingAndGlyphs" >Kobussen et al. (2008)</text>
<line x1="706.0" y1="465.8" x2="728.0" y2="465.8" stroke="#1a1a1a" stroke-width="2.2" />
<polygon points="692,465.8 708,460.8 708,470.8" fill="#1a1a1a"/>
<text x="326.1" y="873.4" font-size="23.5" fill="#2e3a87" font-weight="normal" text-anchor="start" textLength="258.1" lengthAdjust="spacingAndGlyphs" >Statistically-defined step</text>
<text x="326.1" y="905.4" font-size="23.5" fill="#2e3a87" font-weight="normal" text-anchor="start" textLength="212.2" lengthAdjust="spacingAndGlyphs" >change in kimberlite</text>
<text x="326.1" y="935.9" font-size="23.5" fill="#2e3a87" font-weight="normal" text-anchor="start" textLength="202.0" lengthAdjust="spacingAndGlyphs" >chemistry (114 Ma)</text>
<line x1="547.0" y1="908.9" x2="616.0" y2="908.9" stroke="#2e3a87" stroke-width="2.2" />
<polygon points="630,908.9 613,903.9 613,913.9" fill="#2e3a87"/>
<text transform="translate(166.5,574.6) rotate(-90)" font-size="28" fill="#505050" text-anchor="middle">(<tspan font-size="17.5" dy="-11.5">87</tspan><tspan dy="11.5">Sr/</tspan><tspan font-size="17.5" dy="-11.5">86</tspan><tspan dy="11.5">Sr)</tspan><tspan font-size="17" dy="5" font-style="italic">i</tspan></text>
<text transform="translate(166.5,981.7) rotate(-90)" font-size="28" fill="#505050" text-anchor="middle">(<tspan font-size="17.5" dy="-11.5">143</tspan><tspan dy="11.5">Nd/</tspan><tspan font-size="17.5" dy="-11.5">144</tspan><tspan dy="11.5">Nd)</tspan><tspan font-size="17" dy="5" font-style="italic">i</tspan></text>
<text transform="translate(166.5,1400.8) rotate(-90)" font-size="28" fill="#505050" text-anchor="middle">(<tspan font-size="17.5" dy="-11.5">206</tspan><tspan dy="11.5">Pb/</tspan><tspan font-size="17.5" dy="-11.5">204</tspan><tspan dy="11.5">Pb)</tspan><tspan font-size="17" dy="5" font-style="italic">i</tspan></text>
<text transform="translate(166.5,1832.4) rotate(-90)" font-size="28" fill="#505050" text-anchor="middle">(<tspan font-size="17.5" dy="-11.5">87</tspan><tspan dy="11.5">Sr/</tspan><tspan font-size="17.5" dy="-11.5">86</tspan><tspan dy="11.5">Sr)</tspan><tspan font-size="17" dy="5" font-style="italic">i</tspan></text>
<text transform="translate(207.0,2255.6) rotate(-90)" font-size="27.5" fill="#505050" text-anchor="middle">ϵNd</text>
<defs><linearGradient id="cb" x1="0" y1="1" x2="0" y2="0">
<stop offset="0" stop-color="#a64b8f"/>
<stop offset="0.1" stop-color="#6d4c9a"/>
<stop offset="0.2" stop-color="#414c98"/>
<stop offset="0.28" stop-color="#3e5aa6"/>
<stop offset="0.36" stop-color="#55b6e0"/>
<stop offset="0.45" stop-color="#5cb4a8"/>
<stop offset="0.6" stop-color="#55a840"/>
<stop offset="0.72" stop-color="#9cc43a"/>
<stop offset="0.8" stop-color="#f1e51c"/>
<stop offset="0.88" stop-color="#f0962a"/>
<stop offset="1" stop-color="#d7303a"/>
</linearGradient></defs>
<rect x="1119" y="338.3" width="19.2" height="241.6" fill="url(#cb)" stroke="#222" stroke-width="2.2"/>
<line x1="1138.0" y1="338.2" x2="1143.0" y2="338.2" stroke="#222" stroke-width="2.2" />
<text x="1149.9" y="345.7" font-size="21" fill="#505050" font-weight="normal" text-anchor="start" textLength="46.0" lengthAdjust="spacingAndGlyphs" >6000</text>
<line x1="1138.0" y1="386.5" x2="1143.0" y2="386.5" stroke="#222" stroke-width="2.2" />
<text x="1149.9" y="394.0" font-size="21" fill="#505050" font-weight="normal" text-anchor="start" textLength="46.0" lengthAdjust="spacingAndGlyphs" >4800</text>
<line x1="1138.0" y1="434.9" x2="1143.0" y2="434.9" stroke="#222" stroke-width="2.2" />
<text x="1149.9" y="442.4" font-size="21" fill="#505050" font-weight="normal" text-anchor="start" textLength="46.0" lengthAdjust="spacingAndGlyphs" >3600</text>
<line x1="1138.0" y1="483.2" x2="1143.0" y2="483.2" stroke="#222" stroke-width="2.2" />
<text x="1149.9" y="490.7" font-size="21" fill="#505050" font-weight="normal" text-anchor="start" textLength="46.0" lengthAdjust="spacingAndGlyphs" >2400</text>
<line x1="1138.0" y1="531.6" x2="1143.0" y2="531.6" stroke="#222" stroke-width="2.2" />
<text x="1149.9" y="539.1" font-size="21" fill="#505050" font-weight="normal" text-anchor="start" textLength="46.0" lengthAdjust="spacingAndGlyphs" >1200</text>
<line x1="1138.0" y1="579.9" x2="1143.0" y2="579.9" stroke="#222" stroke-width="2.2" />
<text x="1166.7" y="587.4" font-size="21" fill="#505050" font-weight="normal" text-anchor="start" textLength="11.7" lengthAdjust="spacingAndGlyphs" >0</text>
<text transform="translate(1216.5,460.5) rotate(-90)" font-size="20.5" fill="#505050" text-anchor="middle" textLength="215" lengthAdjust="spacingAndGlyphs">Garnet Ti content (ppm)</text>
<defs>
<filter id="bl1" x="-30%" y="-30%" width="160%" height="160%"><feGaussianBlur stdDeviation="9"/></filter>
<filter id="bl2" x="-50%" y="-50%" width="200%" height="200%"><feGaussianBlur stdDeviation="4.5"/></filter>
<filter id="bl3" x="-50%" y="-50%" width="200%" height="200%"><feGaussianBlur stdDeviation="2.2"/></filter>
<clipPath id="cL"><rect x="68.5" y="44.5" width="511" height="212.5"/></clipPath>
<clipPath id="cR"><rect x="687" y="44.5" width="509" height="212.5"/></clipPath>
<linearGradient id="gL" x1="0" y1="44" x2="0" y2="257" gradientUnits="userSpaceOnUse">
<stop offset="0" stop-color="#8248a0"/>
<stop offset="0.08" stop-color="#884a9e"/>
<stop offset="0.15" stop-color="#944a98"/>
<stop offset="0.24" stop-color="#7e4a9e"/>
<stop offset="0.33" stop-color="#5c4aa2"/>
<stop offset="0.43" stop-color="#4a4ea4"/>
<stop offset="0.7" stop-color="#4650a4"/>
<stop offset="1" stop-color="#4450a2"/>
</linearGradient>
<linearGradient id="warm" x1="930" y1="0" x2="1200" y2="0" gradientUnits="userSpaceOnUse">
<stop offset="0" stop-color="#6ab44a"/>
<stop offset="0.2" stop-color="#b0cc34"/>
<stop offset="0.44" stop-color="#f2dc22"/>
<stop offset="0.56" stop-color="#f4d020"/>
<stop offset="0.67" stop-color="#f4b024"/>
<stop offset="0.76" stop-color="#f08a2a"/>
<stop offset="0.86" stop-color="#e4482c"/>
<stop offset="1" stop-color="#dc302e"/>
</linearGradient>
<linearGradient id="gR" x1="0" y1="44" x2="0" y2="257" gradientUnits="userSpaceOnUse">
<stop offset="0" stop-color="#8a4a9a"/>
<stop offset="0.2" stop-color="#844a9c"/>
<stop offset="0.25" stop-color="#5c4aa0"/>
<stop offset="0.4" stop-color="#454ea4"/>
<stop offset="0.5" stop-color="#3e50a6"/>
<stop offset="0.535" stop-color="#3f62b4"/>
<stop offset="0.57" stop-color="#4ca6de"/>
<stop offset="0.61" stop-color="#5cb8cc"/>
<stop offset="0.66" stop-color="#62b8a0"/>
<stop offset="0.72" stop-color="#66b45a"/>
<stop offset="1" stop-color="#6ab44a"/>
</linearGradient>
</defs>
<g clip-path="url(#cL)">
<rect x="60" y="40" width="530" height="225" fill="url(#gL)"/>
<g filter="url(#bl1)">
<ellipse cx="505" cy="68" rx="115" ry="42" fill="#b24a8a" opacity="0.95"/>
<ellipse cx="555" cy="112" rx="50" ry="22" fill="#a04a92" opacity="0.8"/>
<ellipse cx="235" cy="76" rx="100" ry="9" fill="#b2488c" opacity="0.85"/>
<ellipse cx="110" cy="52" rx="60" ry="12" fill="#7c4aa4" opacity="0.6"/>
<ellipse cx="425" cy="100" rx="55" ry="22" fill="#8c4a9c" opacity="0.5"/>
<ellipse cx="235" cy="218" rx="50" ry="14" fill="#6c4aa2" opacity="0.75"/>
<ellipse cx="460" cy="212" rx="110" ry="22" fill="#4a64b6" opacity="0.7"/>
<ellipse cx="565" cy="150" rx="35" ry="12" fill="#5c48a2" opacity="0.6"/>
<ellipse cx="300" cy="165" rx="40" ry="12" fill="#4a4ca6" opacity="0.5"/>
<ellipse cx="410" cy="125" rx="85" ry="18" fill="#7a4a9e" opacity="0.8"/>
<ellipse cx="340" cy="200" rx="45" ry="16" fill="#6a4aa6" opacity="0.6"/>
<ellipse cx="250" cy="135" rx="45" ry="12" fill="#4a58b0" opacity="0.6"/>
<ellipse cx="330" cy="150" rx="60" ry="18" fill="#6a4aa2" opacity="0.6"/>
<ellipse cx="530" cy="130" rx="70" ry="16" fill="#7c4a9e" opacity="0.85"/>
<ellipse cx="545" cy="155" rx="50" ry="10" fill="#5e4aa4" opacity="0.6"/>
<ellipse cx="440" cy="150" rx="70" ry="22" fill="#6a4aa4" opacity="0.75"/>
<ellipse cx="430" cy="192" rx="60" ry="14" fill="#5a4aa6" opacity="0.55"/>
<ellipse cx="450" cy="178" rx="70" ry="18" fill="#5c4aa6" opacity="0.5"/>
</g>
<g filter="url(#bl2)">
<ellipse cx="307" cy="235" rx="22" ry="8" fill="#8e4a9a" opacity="1"/>
</g>
<g filter="url(#bl3)">
<path d="M60.0,144.5 C65.8,136.9 84.9,145.0 95.0,145.5 C105.1,146.0 113.0,146.6 120.5,147.3 C128.0,148.0 135.0,148.6 140.0,149.5 C145.0,150.4 147.9,151.1 150.7,152.5 C153.5,153.9 155.4,156.1 157.0,158.0 C158.6,159.9 159.0,161.1 160.4,164.2 C161.8,167.2 162.9,173.5 165.3,176.3 C167.7,179.1 170.1,180.0 175.0,181.2 C179.9,182.4 189.1,182.5 195.0,183.5 C200.9,184.5 209.7,185.7 210.5,187.0 C211.3,188.3 205.9,190.6 200.0,191.5 C194.1,192.4 183.3,192.6 175.0,192.5 C166.7,192.4 158.1,191.8 150.0,191.0 C141.9,190.2 135.7,187.8 126.5,187.5 C117.3,187.2 106.1,188.4 95.0,189.0 C83.9,189.6 65.8,198.4 60.0,191.0 C54.2,183.6 54.2,152.1 60.0,144.5" fill="#56b4e8"/>
<path d="M60.0,150.9 C65.8,145.7 83.9,150.5 95.0,150.5 C106.1,150.5 118.2,149.8 126.5,150.9 C134.8,152.0 141.0,154.8 145.0,157.0 C149.0,159.2 149.3,161.8 150.7,164.2 C152.0,166.6 154.1,169.3 153.1,171.5 C152.1,173.7 150.2,176.2 144.7,177.5 C139.2,178.8 128.3,179.0 120.0,179.5 C111.7,180.0 105.0,180.1 95.0,180.5 C85.0,180.9 65.8,186.6 60.0,181.7 C54.2,176.8 54.2,156.1 60.0,150.9" fill="#66bec0"/>
<path d="M60.0,152.7 C65.8,148.9 84.2,152.5 95.0,152.8 C105.8,153.1 117.8,153.5 125.0,154.5 C132.2,155.5 135.3,157.3 138.0,159.0 C140.7,160.7 141.2,162.5 141.0,164.5 C140.8,166.5 139.7,169.2 137.0,171.0 C134.3,172.8 132.0,174.2 125.0,175.0 C118.0,175.8 105.8,175.6 95.0,175.7 C84.2,175.8 65.8,179.5 60.0,175.7 C54.2,171.9 54.2,156.5 60.0,152.7" fill="#74bc4a"/>
<ellipse cx="107.5" cy="165.2" rx="23.6" ry="5.1" fill="#88c440" opacity="1"/>
<ellipse cx="391" cy="231" rx="24" ry="4.2" fill="#56aae0" opacity="0.9"/>
<ellipse cx="529" cy="228.3" rx="52" ry="5" fill="#58b6e8" opacity="0.9"/>
<ellipse cx="540" cy="214.3" rx="37" ry="3.8" fill="#4a96d4" opacity="0.85"/>
</g>
<path d="M68.0,64.0 C72.3,63.9 84.8,63.2 94.0,63.2 C103.2,63.2 115.8,63.1 123.0,64.0 C130.2,64.8 136.9,67.1 136.9,68.3 C136.9,69.5 130.2,70.6 123.0,71.2 C115.8,71.8 103.2,71.8 94.0,71.7 C84.8,71.6 72.3,71.0 68.0,70.8" fill="none" stroke="#141414" stroke-width="1.7"/>
<path d="M68.0,83.6 C72.3,83.7 86.5,83.9 94.0,84.3 C101.5,84.7 107.7,85.2 113.0,85.8 C118.3,86.4 122.9,86.7 126.0,88.0 C129.1,89.3 129.9,92.1 131.8,93.8 C133.7,95.5 135.2,96.6 137.6,98.1 C140.0,99.5 143.5,100.8 146.4,102.5 C149.3,104.2 153.1,105.9 155.0,108.3 C156.9,110.7 157.0,114.6 158.0,117.0 C159.0,119.4 159.1,121.3 161.0,122.8 C162.9,124.2 166.2,125.2 169.6,125.7 C173.0,126.2 176.8,126.2 181.2,125.7 C185.6,125.2 191.0,124.2 195.8,122.8 C200.7,121.3 205.5,118.6 210.3,117.0 C215.1,115.4 219.0,114.4 224.8,113.4 C230.6,112.4 237.5,111.7 245.0,111.2 C252.5,110.7 261.7,110.3 270.0,110.5 C278.3,110.7 286.7,111.4 295.0,112.5 C303.3,113.6 311.7,115.2 320.0,117.0 C328.3,118.8 337.0,122.2 345.0,123.0 C353.0,123.8 359.8,121.9 367.8,121.8 C375.8,121.7 381.8,121.6 393.0,122.3 C404.2,123.0 422.7,124.0 434.9,126.0 C447.1,128.0 459.4,132.0 466.4,134.4 C473.4,136.8 471.6,138.9 476.9,140.7 C482.1,142.5 487.4,143.9 497.9,145.0 C508.4,146.1 525.9,146.3 539.9,147.0 C553.9,147.7 575.0,148.7 582.0,149.0" fill="none" stroke="#141414" stroke-width="1.7"/>
<path d="M68.0,118.5 C74.8,119.0 98.0,120.2 108.6,121.4 C119.2,122.6 127.2,124.4 131.8,125.7 C136.4,127.0 136.7,128.1 136.2,129.4 C135.7,130.7 132.4,132.5 128.9,133.7 C125.4,134.9 120.7,135.9 115.0,136.5 C109.3,137.1 102.8,137.2 95.0,137.5 C87.2,137.8 72.5,137.9 68.0,138.0" fill="none" stroke="#141414" stroke-width="1.7"/>
<path d="M68.0,144.0 C72.3,144.1 84.8,144.5 94.0,144.6 C103.2,144.7 114.4,143.7 123.1,144.6 C131.8,145.5 139.6,147.6 146.4,150.0 C153.2,152.4 158.5,156.6 163.8,158.9 C169.1,161.2 173.0,163.5 178.3,164.0 C183.6,164.5 188.5,162.6 195.8,161.8 C203.1,161.1 213.8,160.0 222.0,159.5 C230.2,159.0 237.4,159.2 245.0,158.9 C252.6,158.6 260.3,157.9 267.5,157.9 C274.7,157.9 282.7,158.1 288.1,159.2 C293.5,160.3 297.2,162.5 299.8,164.4 C302.4,166.3 303.6,169.1 303.6,170.8 C303.6,172.5 302.0,172.1 299.8,174.7 C297.6,177.3 293.9,183.8 290.7,186.3 C287.5,188.8 284.3,188.5 280.4,189.6 C276.5,190.7 273.9,191.8 267.5,192.8 C261.1,193.8 250.3,194.8 241.7,195.4 C233.1,196.1 225.9,196.4 215.8,196.7 C205.7,197.0 191.8,197.2 181.2,197.4 C170.6,197.6 161.9,197.7 152.2,198.1 C142.5,198.5 130.4,198.9 123.1,199.6 C115.8,200.3 111.8,201.3 108.6,202.5 C105.4,203.7 104.6,205.1 104.2,206.8 C103.8,208.6 104.7,210.9 106.0,213.0 C107.3,215.1 110.0,217.3 112.0,219.5 C114.0,221.7 117.0,224.9 118.0,226.0" fill="none" stroke="#141414" stroke-width="1.7"/>
<path d="M60.0,144.5 C65.8,144.7 84.9,145.0 95.0,145.5 C105.1,146.0 113.0,146.6 120.5,147.3 C128.0,148.0 135.0,148.6 140.0,149.5 C145.0,150.4 147.9,151.1 150.7,152.5 C153.5,153.9 155.4,156.1 157.0,158.0 C158.6,159.9 159.0,161.1 160.4,164.2 C161.8,167.2 162.9,173.5 165.3,176.3 C167.7,179.1 170.1,180.0 175.0,181.2 C179.9,182.4 189.1,182.5 195.0,183.5 C200.9,184.5 209.7,185.7 210.5,187.0 C211.3,188.3 205.9,190.6 200.0,191.5 C194.1,192.4 183.3,192.6 175.0,192.5 C166.7,192.4 158.1,191.8 150.0,191.0 C141.9,190.2 135.7,187.8 126.5,187.5 C117.3,187.2 106.1,188.4 95.0,189.0 C83.9,189.6 65.8,190.7 60.0,191.0" fill="none" stroke="#141414" stroke-width="1.7"/>
<path d="M60.0,150.9 C65.8,150.8 83.9,150.5 95.0,150.5 C106.1,150.5 118.2,149.8 126.5,150.9 C134.8,152.0 141.0,154.8 145.0,157.0 C149.0,159.2 149.3,161.8 150.7,164.2 C152.0,166.6 154.1,169.3 153.1,171.5 C152.1,173.7 150.2,176.2 144.7,177.5 C139.2,178.8 128.3,179.0 120.0,179.5 C111.7,180.0 105.0,180.1 95.0,180.5 C85.0,180.9 65.8,181.5 60.0,181.7" fill="none" stroke="#141414" stroke-width="1.7"/>
<path d="M60.0,152.7 C65.8,152.7 84.2,152.5 95.0,152.8 C105.8,153.1 117.8,153.5 125.0,154.5 C132.2,155.5 135.3,157.3 138.0,159.0 C140.7,160.7 141.2,162.5 141.0,164.5 C140.8,166.5 139.7,169.2 137.0,171.0 C134.3,172.8 132.0,174.2 125.0,175.0 C118.0,175.8 105.8,175.6 95.0,175.7 C84.2,175.8 65.8,175.7 60.0,175.7" fill="none" stroke="#141414" stroke-width="1.7"/>
<ellipse cx="107.5" cy="165.2" rx="23.6" ry="5.1" fill="none" stroke="#141414" stroke-width="1.7"/>
<ellipse cx="174" cy="207.1" rx="17.4" ry="3.6" fill="none" stroke="#141414" stroke-width="1.7"/>
<ellipse cx="262" cy="140.2" rx="29" ry="10.5" fill="none" stroke="#141414" stroke-width="1.7"/>
<ellipse cx="306.9" cy="235.1" rx="22.6" ry="8.7" fill="none" stroke="#141414" stroke-width="1.7"/>
<ellipse cx="372" cy="196.4" rx="13.6" ry="2.6" fill="none" stroke="#141414" stroke-width="1.7"/>
<ellipse cx="391" cy="231" rx="25" ry="4.6" fill="none" stroke="#141414" stroke-width="1.7"/>
<ellipse cx="529.4" cy="228.3" rx="53" ry="5.3" fill="none" stroke="#141414" stroke-width="1.7"/>
<ellipse cx="540" cy="214.3" rx="38" ry="4" fill="none" stroke="#141414" stroke-width="1.7"/>
<path d="M176.0,244.0 C179.3,245.1 187.9,248.4 196.0,250.4 C204.1,252.4 218.3,254.9 224.8,256.2 C231.3,257.5 233.3,257.7 235.0,258.0" fill="none" stroke="#141414" stroke-width="1.7"/>
<path d="M348.9,258.0 C349.1,256.3 349.6,251.1 350.0,248.0 C350.4,244.9 349.1,243.3 351.0,239.4 C352.9,235.5 354.5,228.5 361.5,224.7 C368.5,220.9 380.8,219.9 393.0,216.4 C405.2,212.9 422.7,207.7 434.9,203.8 C447.1,200.0 458.7,196.2 466.4,193.3 C474.1,190.4 478.6,188.8 481.0,186.5 C483.4,184.2 479.0,182.0 481.1,179.6 C483.2,177.2 487.4,174.6 493.7,172.3 C500.0,170.0 509.4,166.9 518.9,166.0 C528.4,165.1 539.9,166.5 550.4,167.0 C560.9,167.5 576.7,168.8 582.0,169.1" fill="none" stroke="#141414" stroke-width="1.7"/>
<path d="M582.0,239.4 C575.0,239.1 552.2,237.3 539.9,237.3 C527.6,237.3 515.3,238.3 508.4,239.4 C501.5,240.5 499.2,242.6 498.5,244.0 C497.8,245.4 497.3,246.5 504.2,247.8 C511.1,249.1 526.9,250.7 539.9,252.0 C552.9,253.3 575.0,254.9 582.0,255.5" fill="none" stroke="#141414" stroke-width="1.7"/>
<line x1="284" y1="45" x2="284" y2="256" stroke="#2e1a3e" stroke-width="2" stroke-dasharray="4 3.2"/>
<path d="M118.8,66.0 L123.8,72.2 L122.9,75.0 L123.8,77.8 L122.9,80.6 L123.8,83.4 L122.9,86.2 L123.8,88.9 L122.9,91.7 L123.8,94.5 L122.9,97.3 L123.8,100.1 L122.9,102.9 L123.8,105.7 L122.9,108.5 L123.8,111.3 L122.9,114.0 L123.8,116.8 L122.9,119.6 L123.8,122.4 L122.9,125.2 L123.8,128.0 L122.9,130.8 L123.8,133.6 L122.9,136.4 L123.8,139.2 L122.9,141.9 L123.8,144.7 L122.9,147.5 L123.8,150.3 L122.9,153.1 L123.8,155.9 L122.9,158.7 L123.8,161.5 L122.9,162.6 L123.8,163.8 L118.8,170.0 L113.8,163.8 L114.7,162.6 L113.8,161.5 L114.7,158.7 L113.8,155.9 L114.7,153.1 L113.8,150.3 L114.7,147.5 L113.8,144.7 L114.7,141.9 L113.8,139.2 L114.7,136.4 L113.8,133.6 L114.7,130.8 L113.8,128.0 L114.7,125.2 L113.8,122.4 L114.7,119.6 L113.8,116.8 L114.7,114.0 L113.8,111.3 L114.7,108.5 L113.8,105.7 L114.7,102.9 L113.8,100.1 L114.7,97.3 L113.8,94.5 L114.7,91.7 L113.8,88.9 L114.7,86.2 L113.8,83.4 L114.7,80.6 L113.8,77.8 L114.7,75.0 L113.8,72.2 Z" fill="#1d1d1b"/>
<polygon points="118.8,181.8 122.36999999999999,186 118.8,190.2 115.23,186" fill="#1d1d1b"/>
<path d="M183.8,53.5 L189.1,60.0 L188.1,62.9 L189.1,65.9 L188.1,68.8 L189.1,71.7 L188.1,74.7 L189.1,77.6 L188.1,80.5 L189.1,83.4 L188.1,86.4 L189.1,89.3 L188.1,92.2 L189.1,95.2 L188.1,98.1 L189.1,101.0 L188.1,104.0 L189.1,106.9 L188.1,109.8 L189.1,112.7 L188.1,115.7 L189.1,118.6 L188.1,121.5 L189.1,124.5 L188.1,127.4 L189.1,130.3 L188.1,133.2 L189.1,136.2 L188.1,139.1 L189.1,142.0 L188.1,145.0 L189.1,147.9 L188.1,150.8 L189.1,153.8 L188.1,156.7 L189.1,159.6 L188.1,162.5 L189.1,165.5 L188.1,168.4 L189.1,171.3 L188.1,174.3 L189.1,177.2 L188.1,180.1 L189.1,183.0 L188.1,186.0 L189.1,188.9 L188.1,191.8 L189.1,194.8 L188.1,196.1 L189.1,197.5 L183.8,204.0 L178.6,197.5 L179.5,196.1 L178.6,194.8 L179.5,191.8 L178.6,188.9 L179.5,186.0 L178.6,183.0 L179.5,180.1 L178.6,177.2 L179.5,174.3 L178.6,171.3 L179.5,168.4 L178.6,165.5 L179.5,162.5 L178.6,159.6 L179.5,156.7 L178.6,153.8 L179.5,150.8 L178.6,147.9 L179.5,145.0 L178.6,142.0 L179.5,139.1 L178.6,136.2 L179.5,133.2 L178.6,130.3 L179.5,127.4 L178.6,124.5 L179.5,121.5 L178.6,118.6 L179.5,115.7 L178.6,112.7 L179.5,109.8 L178.6,106.9 L179.5,104.0 L178.6,101.0 L179.5,98.1 L178.6,95.2 L179.5,92.2 L178.6,89.3 L179.5,86.4 L178.6,83.4 L179.5,80.5 L178.6,77.6 L179.5,74.7 L178.6,71.7 L179.5,68.8 L178.6,65.9 L179.5,62.9 L178.6,60.0 Z" fill="#1d1d1b"/>
<polygon points="183.8,203.4 186.86,207 183.8,210.6 180.74,207" fill="none" stroke="#1d1d1b" stroke-width="1.9"/>
<polygon points="294.7,74.1 298.09999999999997,78.1 294.7,82.1 291.3,78.1" fill="none" stroke="#1d1d1b" stroke-width="1.9"/>
<path d="M294.7,82.5 L299.4,88.4 L298.6,91.0 L299.4,93.7 L298.6,96.3 L299.4,99.0 L298.6,101.6 L299.4,104.3 L298.6,106.9 L299.4,109.6 L298.6,112.2 L299.4,114.9 L298.6,117.5 L299.4,120.2 L298.6,121.8 L299.4,123.4 L294.7,129.3 L289.9,123.4 L290.8,121.8 L289.9,120.2 L290.8,117.5 L289.9,114.9 L290.8,112.2 L289.9,109.6 L290.8,106.9 L289.9,104.3 L290.8,101.6 L289.9,99.0 L290.8,96.3 L289.9,93.7 L290.8,91.0 L289.9,88.4 Z" fill="#1d1d1b"/>
<path d="M294.7,133.7 L299.4,139.6 L298.6,142.2 L299.4,144.9 L298.6,147.5 L299.4,150.2 L298.6,152.8 L299.4,155.5 L298.6,158.1 L299.4,160.8 L298.6,163.4 L299.4,166.1 L298.6,168.7 L299.4,171.4 L298.6,174.0 L299.4,176.7 L298.6,177.9 L299.4,179.1 L294.7,185.0 L289.9,179.1 L290.8,177.9 L289.9,176.7 L290.8,174.0 L289.9,171.4 L290.8,168.7 L289.9,166.1 L290.8,163.4 L289.9,160.8 L290.8,158.1 L289.9,155.5 L290.8,152.8 L289.9,150.2 L290.8,147.5 L289.9,144.9 L290.8,142.2 L289.9,139.6 Z" fill="#1d1d1b"/>
<path d="M331.8,72.6 L336.8,78.8 L335.9,81.6 L336.8,84.4 L335.9,87.2 L336.8,90.0 L335.9,92.8 L336.8,95.5 L335.9,98.3 L336.8,101.1 L335.9,103.9 L336.8,106.7 L335.9,109.5 L336.8,112.3 L335.9,115.1 L336.8,117.9 L335.9,120.6 L336.8,123.4 L335.9,126.2 L336.8,129.0 L335.9,131.8 L336.8,134.6 L335.9,137.4 L336.8,140.2 L335.9,143.0 L336.8,145.8 L335.9,148.6 L336.8,151.3 L335.9,154.1 L336.8,156.9 L335.9,159.7 L336.8,162.5 L335.9,165.3 L336.8,168.1 L335.9,170.9 L336.8,173.7 L335.9,176.5 L336.8,179.2 L335.9,182.0 L336.8,184.8 L335.9,185.7 L336.8,186.5 L331.8,192.7 L326.8,186.5 L327.7,185.7 L326.8,184.8 L327.7,182.0 L326.8,179.2 L327.7,176.5 L326.8,173.7 L327.7,170.9 L326.8,168.1 L327.7,165.3 L326.8,162.5 L327.7,159.7 L326.8,156.9 L327.7,154.1 L326.8,151.3 L327.7,148.6 L326.8,145.8 L327.7,143.0 L326.8,140.2 L327.7,137.4 L326.8,134.6 L327.7,131.8 L326.8,129.0 L327.7,126.2 L326.8,123.4 L327.7,120.6 L326.8,117.9 L327.7,115.1 L326.8,112.3 L327.7,109.5 L326.8,106.7 L327.7,103.9 L326.8,101.1 L327.7,98.3 L326.8,95.5 L327.7,92.8 L326.8,90.0 L327.7,87.2 L326.8,84.4 L327.7,81.6 L326.8,78.8 Z" fill="#1d1d1b"/>
<polygon points="331.8,224.7 335.03000000000003,228.5 331.8,232.3 328.57,228.5" fill="none" stroke="#1d1d1b" stroke-width="1.9"/>
<polygon points="331.8,232.2 335.03000000000003,236 331.8,239.8 328.57,236" fill="none" stroke="#1d1d1b" stroke-width="1.9"/>
<polygon points="331.8,239.5 334.77500000000003,243 331.8,246.5 328.825,243" fill="none" stroke="#1d1d1b" stroke-width="1.9"/>
<polygon points="341.7,44.0 344.675,47.5 341.7,51.0 338.72499999999997,47.5" fill="none" stroke="#1d1d1b" stroke-width="1.9"/>
<polygon points="341.7,51.0 344.675,54.5 341.7,58.0 338.72499999999997,54.5" fill="none" stroke="#1d1d1b" stroke-width="1.9"/>
<polygon points="341.7,61.800000000000004 344.76,65.4 341.7,69.0 338.64,65.4" fill="none" stroke="#1d1d1b" stroke-width="1.9"/>
<polygon points="341.7,76.0 344.76,79.6 341.7,83.19999999999999 338.64,79.6" fill="none" stroke="#1d1d1b" stroke-width="1.9"/>
<path d="M341.8,86.0 L346.6,91.9 L345.7,94.5 L346.6,97.2 L345.7,99.8 L346.6,102.5 L345.7,105.1 L346.6,107.8 L345.7,110.4 L346.6,113.1 L345.7,115.7 L346.6,118.4 L345.7,121.0 L346.6,123.7 L345.7,126.3 L346.6,129.0 L345.7,131.6 L346.6,134.3 L345.7,136.9 L346.6,139.6 L345.7,142.2 L346.6,144.9 L345.7,147.6 L346.6,150.2 L345.7,152.9 L346.6,155.5 L345.7,158.2 L346.6,160.8 L345.7,163.5 L346.6,166.1 L345.7,168.8 L346.6,171.4 L345.7,174.1 L346.6,176.7 L345.7,179.4 L346.6,182.0 L345.7,184.7 L346.6,187.3 L345.7,189.7 L346.6,192.1 L341.8,198.0 L337.1,192.1 L337.9,189.7 L337.1,187.3 L337.9,184.7 L337.1,182.0 L337.9,179.4 L337.1,176.7 L337.9,174.1 L337.1,171.4 L337.9,168.8 L337.1,166.1 L337.9,163.5 L337.1,160.8 L337.9,158.2 L337.1,155.5 L337.9,152.9 L337.1,150.2 L337.9,147.6 L337.1,144.9 L337.9,142.2 L337.1,139.6 L337.9,136.9 L337.1,134.3 L337.9,131.6 L337.1,129.0 L337.9,126.3 L337.1,123.7 L337.9,121.0 L337.1,118.4 L337.9,115.7 L337.1,113.1 L337.9,110.4 L337.1,107.8 L337.9,105.1 L337.1,102.5 L337.9,99.8 L337.1,97.2 L337.9,94.5 L337.1,91.9 Z" fill="#1d1d1b"/>
<polygon points="375.5,66.7 378.73,70.5 375.5,74.3 372.27,70.5" fill="none" stroke="#1d1d1b" stroke-width="1.9"/>
<path d="M375.0,75.5 L381.8,83.9 L380.5,87.6 L381.8,91.4 L380.5,95.2 L381.8,98.9 L380.5,102.7 L381.8,106.5 L380.5,110.2 L381.8,114.0 L380.5,117.8 L381.8,121.5 L380.5,125.3 L381.8,129.1 L380.5,130.8 L381.8,132.6 L375.0,141.0 L368.2,132.6 L369.5,130.8 L368.2,129.1 L369.5,125.3 L368.2,121.5 L369.5,117.8 L368.2,114.0 L369.5,110.2 L368.2,106.5 L369.5,102.7 L368.2,98.9 L369.5,95.2 L368.2,91.4 L369.5,87.6 L368.2,83.9 Z" fill="#1d1d1b"/>
<path d="M372.3,138.0 L376.6,143.3 L375.8,145.6 L376.6,148.0 L375.8,150.4 L376.6,152.8 L375.8,155.1 L376.6,157.5 L375.8,159.9 L376.6,162.2 L375.8,163.1 L376.6,164.0 L372.3,169.3 L368.1,164.0 L368.8,163.1 L368.1,162.2 L368.8,159.9 L368.1,157.5 L368.8,155.1 L368.1,152.8 L368.8,150.4 L368.1,148.0 L368.8,145.6 L368.1,143.3 Z" fill="#1d1d1b"/>
<path d="M388.5,134.0 L393.2,139.9 L392.4,142.5 L393.2,145.2 L392.4,147.8 L393.2,150.5 L392.4,153.1 L393.2,155.8 L392.4,158.4 L393.2,161.1 L392.4,163.7 L393.2,166.4 L392.4,169.0 L393.2,171.7 L392.4,174.3 L393.2,177.0 L392.4,179.6 L393.2,182.3 L392.4,184.9 L393.2,187.6 L392.4,190.2 L393.2,192.9 L392.4,195.6 L393.2,198.2 L392.4,200.9 L393.2,203.5 L392.4,206.2 L393.2,208.8 L392.4,211.5 L393.2,214.1 L392.4,216.8 L393.2,219.4 L392.4,222.1 L393.2,224.7 L392.4,227.4 L393.2,230.0 L392.4,232.7 L393.2,235.3 L392.4,235.7 L393.2,236.1 L388.5,242.0 L383.8,236.1 L384.6,235.7 L383.8,235.3 L384.6,232.7 L383.8,230.0 L384.6,227.4 L383.8,224.7 L384.6,222.1 L383.8,219.4 L384.6,216.8 L383.8,214.1 L384.6,211.5 L383.8,208.8 L384.6,206.2 L383.8,203.5 L384.6,200.9 L383.8,198.2 L384.6,195.6 L383.8,192.9 L384.6,190.2 L383.8,187.6 L384.6,184.9 L383.8,182.3 L384.6,179.6 L383.8,177.0 L384.6,174.3 L383.8,171.7 L384.6,169.0 L383.8,166.4 L384.6,163.7 L383.8,161.1 L384.6,158.4 L383.8,155.8 L384.6,153.1 L383.8,150.5 L384.6,147.8 L383.8,145.2 L384.6,142.5 L383.8,139.9 Z" fill="#1d1d1b"/>
<path d="M534.0,134.7 L540.2,142.4 L539.1,145.8 L540.2,149.3 L539.1,152.8 L540.2,156.2 L539.1,159.7 L540.2,163.1 L539.1,166.6 L540.2,170.1 L539.1,173.5 L540.2,177.0 L539.1,180.4 L540.2,183.9 L539.1,187.4 L540.2,190.8 L539.1,194.3 L540.2,197.7 L539.1,201.2 L540.2,204.7 L539.1,208.1 L540.2,211.6 L539.1,215.0 L540.2,218.5 L539.1,222.0 L540.2,225.4 L539.1,228.9 L540.2,232.3 L539.1,235.8 L540.2,239.3 L534.0,247.0 L527.8,239.3 L528.9,235.8 L527.8,232.3 L528.9,228.9 L527.8,225.4 L528.9,222.0 L527.8,218.5 L528.9,215.0 L527.8,211.6 L528.9,208.1 L527.8,204.7 L528.9,201.2 L527.8,197.7 L528.9,194.3 L527.8,190.8 L528.9,187.4 L527.8,183.9 L528.9,180.4 L527.8,177.0 L528.9,173.5 L527.8,170.1 L528.9,166.6 L527.8,163.1 L528.9,159.7 L527.8,156.2 L528.9,152.8 L527.8,149.3 L528.9,145.8 L527.8,142.4 Z" fill="#1d1d1b"/>
<text transform="translate(110.8,180.6) rotate(-90)" font-size="21.5" fill="#fff" textLength="112.3" lengthAdjust="spacingAndGlyphs">Melton Wold</text>
<text transform="translate(178.3,191.5) rotate(-90)" font-size="21.5" fill="#fff" textLength="86.0" lengthAdjust="spacingAndGlyphs">Mt. Pierre</text>
<text transform="translate(283.0,222.7) rotate(-90)" font-size="21.5" fill="#fff" textLength="145.0" lengthAdjust="spacingAndGlyphs">Brandewynskuil</text>
<text transform="translate(326.0,227.7) rotate(-90)" font-size="21.5" fill="#fff" textLength="70.0" lengthAdjust="spacingAndGlyphs">Kalkput</text>
<text transform="translate(363.0,192.7) rotate(-90)" font-size="21.5" fill="#fff" textLength="147.7" lengthAdjust="spacingAndGlyphs">Weilpan S.Markt</text>
<text transform="translate(395.4,126.0) rotate(-90)" font-size="21.5" fill="#fff" textLength="82.0" lengthAdjust="spacingAndGlyphs">Unkrwater</text>
<text transform="translate(407.5,253.5) rotate(-90)" font-size="21.5" fill="#fff" textLength="127.8" lengthAdjust="spacingAndGlyphs">Middelwater-1</text>
<text transform="translate(524.4,226.2) rotate(-90)" font-size="21.5" fill="#fff" textLength="89.2" lengthAdjust="spacingAndGlyphs">Holsloot-1</text>
<text transform="translate(557.0,211.0) rotate(-90)" font-size="21.5" fill="#fff" textLength="82.5" lengthAdjust="spacingAndGlyphs">Sanddrift</text>
</g>
<rect x="78.3" y="219.8" width="97" height="28.2" fill="#fff" stroke="#111" stroke-width="1.6"/>
<text x="82.4" y="241.7" font-size="24.5" fill="#111" stroke="#111" stroke-width="0.45" textLength="88" lengthAdjust="spacingAndGlyphs">Group 2</text>
<rect x="68" y="44" width="512" height="213.5" fill="none" stroke="#1a1a1a" stroke-width="3"/>
<line x1="60.8" y1="86.6" x2="68" y2="86.6" stroke="#1a1a1a" stroke-width="2.3"/>
<line x1="60.8" y1="129.3" x2="68" y2="129.3" stroke="#1a1a1a" stroke-width="2.3"/>
<line x1="60.8" y1="172" x2="68" y2="172" stroke="#1a1a1a" stroke-width="2.3"/>
<line x1="60.8" y1="214.7" x2="68" y2="214.7" stroke="#1a1a1a" stroke-width="2.3"/>
<line x1="60.8" y1="257.5" x2="68" y2="257.5" stroke="#1a1a1a" stroke-width="2.3"/>
<line x1="580" y1="86.6" x2="587" y2="86.6" stroke="#1a1a1a" stroke-width="2.3"/>
<line x1="580" y1="129.3" x2="587" y2="129.3" stroke="#1a1a1a" stroke-width="2.3"/>
<line x1="580" y1="172" x2="587" y2="172" stroke="#1a1a1a" stroke-width="2.3"/>
<line x1="580" y1="214.7" x2="587" y2="214.7" stroke="#1a1a1a" stroke-width="2.3"/>
<line x1="580" y1="44" x2="587" y2="44" stroke="#1a1a1a" stroke-width="2.3"/>
<line x1="156.7" y1="37.5" x2="156.7" y2="44" stroke="#1a1a1a" stroke-width="2.3"/>
<line x1="156.7" y1="257.5" x2="156.7" y2="263.5" stroke="#1a1a1a" stroke-width="2.3"/>
<line x1="327.2" y1="37.5" x2="327.2" y2="44" stroke="#1a1a1a" stroke-width="2.3"/>
<line x1="327.2" y1="257.5" x2="327.2" y2="263.5" stroke="#1a1a1a" stroke-width="2.3"/>
<line x1="497.6" y1="37.5" x2="497.6" y2="44" stroke="#1a1a1a" stroke-width="2.3"/>
<line x1="497.6" y1="257.5" x2="497.6" y2="263.5" stroke="#1a1a1a" stroke-width="2.3"/>
<g clip-path="url(#cR)">
<rect x="680" y="40" width="530" height="225" fill="url(#gR)"/>
<g filter="url(#bl1)">
<ellipse cx="1070" cy="70" rx="170" ry="32" fill="#a04a92" opacity="0.9"/>
<ellipse cx="920" cy="105" rx="70" ry="18" fill="#ae4a8e" opacity="0.85"/>
<ellipse cx="1020" cy="100" rx="60" ry="15" fill="#a04a92" opacity="0.6"/>
<ellipse cx="760" cy="66" rx="70" ry="18" fill="#9a4a94" opacity="0.6"/>
<ellipse cx="735" cy="210" rx="55" ry="28" fill="#6ec2c0" opacity="0.85"/>
<ellipse cx="910" cy="250" rx="50" ry="14" fill="#a8c838" opacity="0.7"/>
</g>
<g filter="url(#bl2)">
<polygon points="940,186 1000,181 1060,177 1120,173 1200,168 1200,184 1120,188 1060,191 1000,195 940,200" fill="#5eae48"/>
<polygon points="930,262 935,225 965,205 1000,199 1050,194 1120,191 1160,189 1200,187 1200,262" fill="url(#warm)"/>
<polygon points="1040,194 1120,190 1160,188 1200,186 1200,193 1160,195 1120,197 1040,200" fill="#f2c424" opacity="0.85"/>
<ellipse cx="822" cy="214.5" rx="56" ry="9" fill="#5ab8e4" opacity="1"/>
<ellipse cx="838" cy="163" rx="52" ry="6" fill="#3e50a6" opacity="1"/>
<ellipse cx="1001" cy="191" rx="22" ry="4" fill="#e6d830" opacity="1"/>
</g>
<g filter="url(#bl3)">
<ellipse cx="832.3" cy="214.2" rx="25" ry="4.6" fill="#3c4aa0" opacity="1"/>
</g>
<path d="M687.0,91.6 C696.7,91.5 729.8,91.6 745.0,91.2 C760.2,90.8 768.0,89.1 778.0,89.0 C788.0,88.9 798.0,89.8 805.0,90.5 C812.0,91.2 817.5,92.6 820.0,93.0" fill="none" stroke="#141414" stroke-width="1.7"/>
<path d="M687.0,125.0 C696.7,125.1 724.8,125.6 745.4,125.4 C766.0,125.2 792.6,124.0 810.7,123.9 C828.9,123.8 839.8,125.0 854.3,125.0 C868.8,125.0 883.6,124.1 897.9,123.9 C912.2,123.7 928.8,125.1 940.0,123.9 C951.2,122.8 956.3,119.0 965.0,117.0 C973.7,115.0 981.9,112.2 992.3,111.9 C1002.7,111.6 1017.8,114.3 1027.2,115.2 C1036.7,116.1 1034.5,116.9 1049.0,117.4 C1063.5,117.9 1089.5,117.8 1114.3,118.4 C1139.1,119.0 1184.0,120.6 1198.0,121.1" fill="none" stroke="#141414" stroke-width="1.7"/>
<path d="M821.6,142.4 C827.0,142.8 841.6,143.9 854.3,144.6 C867.0,145.3 883.6,146.1 897.9,146.8 C912.2,147.5 924.3,148.6 940.0,149.0 C955.7,149.4 977.8,149.4 992.3,149.0 C1006.8,148.6 1010.5,148.2 1027.2,146.8 C1043.9,145.4 1064.0,141.6 1092.5,140.7 C1121.0,139.8 1180.4,141.2 1198.0,141.3" fill="none" stroke="#141414" stroke-width="1.7"/>
<path d="M687.0,158.8 C695.8,159.3 722.3,160.7 740.0,161.8 C757.7,162.9 778.5,164.1 793.3,165.3 C808.1,166.5 817.0,168.5 828.8,168.9 C840.6,169.3 853.9,169.0 864.3,168.0 C874.7,167.0 878.4,164.6 891.0,162.7 C903.6,160.8 913.7,158.2 940.0,156.6 C966.3,155.0 1006.0,153.7 1049.0,153.3 C1092.0,152.9 1173.2,154.2 1198.0,154.4" fill="none" stroke="#141414" stroke-width="1.7"/>
<path d="M687.0,182.7 C695.8,181.7 722.3,178.3 740.0,176.9 C757.7,175.5 772.6,175.1 793.3,174.2 C814.0,173.3 836.5,172.8 864.3,171.5 C892.1,170.2 929.2,167.8 960.0,166.2 C990.8,164.6 1009.3,163.1 1049.0,162.0 C1088.7,160.9 1173.2,159.8 1198.0,159.4" fill="none" stroke="#141414" stroke-width="1.7"/>
<path d="M1198.0,166.4 C1173.2,166.9 1088.7,168.2 1049.0,169.7 C1009.3,171.1 981.9,174.0 960.0,175.1 C938.1,176.2 933.6,175.7 917.6,176.0 C901.6,176.3 879.1,176.6 864.3,176.9 C849.5,177.2 839.2,177.1 828.8,177.8 C818.4,178.5 809.5,179.5 802.1,181.3 C794.7,183.1 784.4,186.0 784.4,188.4 C784.4,190.8 791.8,193.9 802.1,195.5 C812.5,197.1 833.2,197.0 846.5,198.2 C859.8,199.4 873.1,200.7 882.0,202.6 C890.9,204.5 896.2,207.8 899.8,209.7 C903.4,211.6 904.0,212.7 903.4,214.2 C902.8,215.7 902.8,216.8 896.3,218.6 C889.8,220.4 875.5,223.2 864.3,224.8 C853.0,226.4 840.6,227.7 828.8,228.4 C817.0,229.1 808.1,229.1 793.3,229.2 C778.5,229.3 757.7,229.1 740.0,229.2 C722.3,229.2 695.8,229.4 687.0,229.5" fill="none" stroke="#141414" stroke-width="1.7"/>
<path d="M1198.0,172.9 C1173.2,173.4 1092.0,174.6 1049.0,176.2 C1006.0,177.8 966.3,181.0 940.0,182.7 C913.7,184.4 901.8,185.6 891.0,186.6 C880.2,187.6 880.0,187.8 875.0,188.4 C870.0,189.0 866.6,190.0 860.7,190.2 C854.8,190.3 845.0,190.3 839.4,189.3 C833.8,188.3 827.0,185.3 827.0,184.0 C827.0,182.7 833.8,181.8 839.4,181.3 C845.0,180.8 854.8,180.7 860.7,181.0 C866.6,181.3 872.6,182.7 875.0,183.0" fill="none" stroke="#141414" stroke-width="1.7"/>
<path d="M864.3,183.1 C870.2,185.2 889.4,192.2 899.8,195.5 C910.1,198.8 919.6,199.9 926.4,202.6 C933.2,205.3 939.1,208.8 940.6,211.5 C942.1,214.2 942.1,216.1 935.3,218.6 C928.5,221.1 911.6,224.5 899.8,226.6 C888.0,228.7 876.1,229.7 864.3,231.0 C852.5,232.3 840.6,233.1 828.8,234.6 C817.0,236.1 808.1,238.3 793.3,239.9 C778.5,241.5 757.7,242.8 740.0,244.0 C722.3,245.2 695.8,246.5 687.0,247.0" fill="none" stroke="#141414" stroke-width="1.7"/>
<path d="M760.0,258.0 C765.5,257.6 775.9,257.1 793.3,255.9 C810.7,254.7 843.6,253.0 864.3,250.6 C885.0,248.2 901.6,245.0 917.6,241.7 C933.6,238.4 949.0,234.2 960.0,231.0 C971.0,227.8 978.6,225.4 983.6,222.8 C988.6,220.2 990.1,217.7 990.1,215.2 C990.1,212.7 988.3,210.3 983.6,207.6 C978.9,204.9 968.0,201.5 961.8,198.8 C955.6,196.1 948.0,193.2 946.5,191.2 C945.0,189.2 946.9,188.0 953.1,186.9 C959.3,185.8 969.1,185.5 983.6,184.7 C998.1,183.9 1017.3,183.1 1040.0,182.0 C1062.7,180.9 1093.7,179.2 1120.0,178.0 C1146.3,176.8 1185.0,175.5 1198.0,175.0" fill="none" stroke="#141414" stroke-width="1.7"/>
<path d="M940.0,255.5 C947.3,254.4 969.1,252.6 983.6,249.0 C998.1,245.4 1015.6,239.5 1027.2,233.7 C1038.8,227.9 1047.8,219.9 1053.3,214.1 C1058.8,208.3 1057.0,202.1 1059.9,198.8 C1062.8,195.5 1061.6,196.1 1070.7,194.5 C1079.8,192.9 1099.8,190.6 1114.3,189.0 C1128.8,187.4 1144.0,186.0 1157.9,184.7 C1171.9,183.4 1191.3,181.9 1198.0,181.4" fill="none" stroke="#141414" stroke-width="1.7"/>
<path d="M1198.0,186.9 C1191.3,187.8 1168.2,190.5 1157.9,192.3 C1147.6,194.1 1137.9,195.9 1136.1,197.7 C1134.3,199.5 1140.8,201.9 1147.0,203.2 C1153.2,204.5 1174.4,204.4 1173.2,205.4 C1172.0,206.4 1147.6,207.6 1140.0,209.0 C1132.4,210.4 1128.8,211.1 1127.4,214.1 C1126.0,217.1 1130.3,223.2 1131.8,227.2 C1133.2,231.2 1139.0,234.8 1136.1,238.1 C1133.2,241.4 1127.0,243.9 1114.3,246.8 C1101.6,249.7 1072.3,253.6 1059.9,255.5 C1047.5,257.4 1043.3,257.6 1040.0,258.0" fill="none" stroke="#141414" stroke-width="1.7"/>
<path d="M1198.0,193.4 C1195.5,193.9 1183.0,195.4 1183.0,196.5 C1183.0,197.6 1195.5,199.3 1198.0,199.9" fill="none" stroke="#141414" stroke-width="1.7"/>
<path d="M1198.0,211.9 C1195.2,212.6 1181.0,214.8 1181.0,216.2 C1181.0,217.6 1195.2,219.9 1198.0,220.6" fill="none" stroke="#141414" stroke-width="1.7"/>
<ellipse cx="834.7" cy="52" rx="13" ry="2.7" fill="none" stroke="#141414" stroke-width="1.7"/>
<ellipse cx="752" cy="105" rx="38" ry="8.7" fill="none" stroke="#141414" stroke-width="1.7"/>
<ellipse cx="782.4" cy="129.3" rx="11" ry="2.6" fill="none" stroke="#141414" stroke-width="1.7"/>
<ellipse cx="801" cy="119.5" rx="14" ry="2.3" fill="none" stroke="#141414" stroke-width="1.7"/>
<ellipse cx="832.3" cy="214.2" rx="25.7" ry="4.6" fill="none" stroke="#141414" stroke-width="1.7"/>
<ellipse cx="820.8" cy="214.5" rx="56.8" ry="7.8" fill="none" stroke="#141414" stroke-width="1.7"/>
<ellipse cx="1001" cy="191.2" rx="26" ry="4.4" fill="none" stroke="#141414" stroke-width="1.7"/>
<path d="M741.8,47.5 L746.5,53.4 L745.7,56.0 L746.5,58.7 L745.7,61.3 L746.5,64.0 L745.7,66.6 L746.5,69.3 L745.7,71.9 L746.5,74.6 L745.7,77.2 L746.5,79.9 L745.7,81.3 L746.5,82.6 L741.8,88.5 L737.0,82.6 L737.9,81.3 L737.0,79.9 L737.9,77.2 L737.0,74.6 L737.9,71.9 L737.0,69.3 L737.9,66.6 L737.0,64.0 L737.9,61.3 L737.0,58.7 L737.9,56.0 L737.0,53.4 Z" fill="#1d1d1b"/>
<polygon points="741.8,97.0 745.03,100.8 741.8,104.6 738.5699999999999,100.8" fill="#1d1d1b"/>
<polygon points="741.8,127.6 744.8599999999999,131.2 741.8,134.79999999999998 738.74,131.2" fill="none" stroke="#1d1d1b" stroke-width="1.9"/>
<path d="M771.7,67.0 L776.5,72.9 L775.6,75.5 L776.5,78.2 L775.6,80.8 L776.5,83.5 L775.6,86.1 L776.5,88.8 L775.6,91.4 L776.5,94.1 L775.6,96.7 L776.5,99.4 L775.6,102.0 L776.5,104.7 L775.6,106.4 L776.5,108.1 L771.7,114.0 L767.0,108.1 L767.8,106.4 L767.0,104.7 L767.8,102.0 L767.0,99.4 L767.8,96.7 L767.0,94.1 L767.8,91.4 L767.0,88.8 L767.8,86.1 L767.0,83.5 L767.8,80.8 L767.0,78.2 L767.8,75.5 L767.0,72.9 Z" fill="#1d1d1b"/>
<polygon points="771.7,116.60000000000001 774.76,120.2 771.7,123.8 768.6400000000001,120.2" fill="none" stroke="#1d1d1b" stroke-width="1.9"/>
<polygon points="771.7,121.10000000000001 774.76,124.7 771.7,128.3 768.6400000000001,124.7" fill="none" stroke="#1d1d1b" stroke-width="1.9"/>
<polygon points="771.7,125.0 774.76,128.6 771.7,132.2 768.6400000000001,128.6" fill="none" stroke="#1d1d1b" stroke-width="1.9"/>
<path d="M817.6,69.0 L822.6,75.2 L821.7,78.0 L822.6,80.8 L821.7,83.6 L822.6,86.4 L821.7,89.2 L822.6,91.9 L821.7,94.7 L822.6,97.5 L821.7,100.3 L822.6,103.1 L821.7,105.9 L822.6,108.7 L821.7,111.5 L822.6,114.3 L821.7,117.0 L822.6,119.8 L821.7,122.6 L822.6,125.4 L821.7,128.2 L822.6,131.0 L821.7,133.8 L822.6,136.6 L821.7,137.7 L822.6,138.8 L817.6,145.0 L812.6,138.8 L813.5,137.7 L812.6,136.6 L813.5,133.8 L812.6,131.0 L813.5,128.2 L812.6,125.4 L813.5,122.6 L812.6,119.8 L813.5,117.0 L812.6,114.3 L813.5,111.5 L812.6,108.7 L813.5,105.9 L812.6,103.1 L813.5,100.3 L812.6,97.5 L813.5,94.7 L812.6,91.9 L813.5,89.2 L812.6,86.4 L813.5,83.6 L812.6,80.8 L813.5,78.0 L812.6,75.2 Z" fill="#1d1d1b"/>
<path d="M860.4,123.5 L865.1,129.4 L864.3,132.0 L865.1,134.7 L864.3,137.3 L865.1,140.0 L864.3,142.6 L865.1,145.3 L864.3,147.9 L865.1,150.6 L864.3,153.2 L865.1,155.9 L864.3,158.5 L865.1,161.2 L864.3,163.8 L865.1,166.5 L864.3,169.1 L865.1,171.8 L864.3,174.4 L865.1,177.1 L864.3,179.7 L865.1,182.4 L864.3,185.1 L865.1,187.7 L860.4,194.0 L855.6,187.7 L856.5,185.1 L855.6,182.4 L856.5,179.7 L855.6,177.1 L856.5,174.4 L855.6,171.8 L856.5,169.1 L855.6,166.5 L856.5,163.8 L855.6,161.2 L856.5,158.5 L855.6,155.9 L856.5,153.2 L855.6,150.6 L856.5,147.9 L855.6,145.3 L856.5,142.6 L855.6,140.0 L856.5,137.3 L855.6,134.7 L856.5,132.0 L855.6,129.4 Z" fill="#1d1d1b"/>
<polygon points="992,46.3 994.72,49.5 992,52.7 989.28,49.5" fill="none" stroke="#1d1d1b" stroke-width="1.9"/>
<polygon points="991.7,72.39999999999999 994.59,75.8 991.7,79.2 988.8100000000001,75.8" fill="none" stroke="#1d1d1b" stroke-width="1.9"/>
<polygon points="991.7,87.6 994.59,91 991.7,94.4 988.8100000000001,91" fill="none" stroke="#1d1d1b" stroke-width="1.9"/>
<path d="M991.7,93.0 L996.2,98.6 L995.4,101.1 L996.2,103.6 L995.4,106.1 L996.2,108.6 L995.4,111.1 L996.2,113.6 L995.4,115.4 L996.2,117.2 L991.7,122.8 L987.2,117.2 L988.0,115.4 L987.2,113.6 L988.0,111.1 L987.2,108.6 L988.0,106.1 L987.2,103.6 L988.0,101.1 L987.2,98.6 Z" fill="#1d1d1b"/>
<path d="M991.7,137.0 L996.2,142.6 L995.4,144.5 L996.2,146.4 L991.7,152.0 L987.2,146.4 L988.0,144.5 L987.2,142.6 Z" fill="#1d1d1b"/>
<path d="M991.7,180.0 L996.0,185.3 L995.2,187.0 L996.0,188.7 L991.7,194.0 L987.5,188.7 L988.2,187.0 L987.5,185.3 Z" fill="#1d1d1b"/>
<polygon points="1172.5,62.6 1175.39,66 1172.5,69.4 1169.61,66" fill="none" stroke="#1d1d1b" stroke-width="1.9"/>
<path d="M1172.5,70.0 L1177.2,75.9 L1176.4,78.5 L1177.2,81.2 L1176.4,83.8 L1177.2,86.5 L1176.4,89.1 L1177.2,91.8 L1176.4,94.4 L1177.2,97.1 L1176.4,99.7 L1177.2,102.4 L1176.4,105.0 L1177.2,107.7 L1176.4,108.9 L1177.2,110.1 L1172.5,116.0 L1167.8,110.1 L1168.6,108.9 L1167.8,107.7 L1168.6,105.0 L1167.8,102.4 L1168.6,99.7 L1167.8,97.1 L1168.6,94.4 L1167.8,91.8 L1168.6,89.1 L1167.8,86.5 L1168.6,83.8 L1167.8,81.2 L1168.6,78.5 L1167.8,75.9 Z" fill="#1d1d1b"/>
<path d="M1172.5,121.0 L1177.0,126.6 L1176.2,129.1 L1177.0,131.6 L1176.2,132.5 L1177.0,133.4 L1172.5,139.0 L1168.0,133.4 L1168.8,132.5 L1168.0,131.6 L1168.8,129.1 L1168.0,126.6 Z" fill="#1d1d1b"/>
<polygon points="1172.5,147.5 1175.05,150.5 1172.5,153.5 1169.95,150.5" fill="none" stroke="#1d1d1b" stroke-width="1.9"/>
<path d="M1172.5,153.0 L1177.2,158.9 L1176.4,161.5 L1177.2,164.2 L1176.4,166.8 L1177.2,169.5 L1176.4,172.1 L1177.2,174.8 L1176.4,177.4 L1177.2,180.1 L1176.4,182.7 L1177.2,185.4 L1176.4,188.0 L1177.2,190.7 L1176.4,193.3 L1177.2,196.0 L1176.4,198.6 L1177.2,201.3 L1172.5,207.5 L1167.8,201.3 L1168.6,198.6 L1167.8,196.0 L1168.6,193.3 L1167.8,190.7 L1168.6,188.0 L1167.8,185.4 L1168.6,182.7 L1167.8,180.1 L1168.6,177.4 L1167.8,174.8 L1168.6,172.1 L1167.8,169.5 L1168.6,166.8 L1167.8,164.2 L1168.6,161.5 L1167.8,158.9 Z" fill="#1d1d1b"/>
<polygon points="1172.5,210.5 1175.9,214.5 1172.5,218.5 1169.1,214.5" fill="#1d1d1b"/>
<text transform="translate(735.8,148.0) rotate(-90)" font-size="21.5" fill="#fff" textLength="91.7" lengthAdjust="spacingAndGlyphs">Aarfontein</text>
<text transform="translate(766.3,142.1) rotate(-90)" font-size="21.5" fill="#fff" textLength="67.1" lengthAdjust="spacingAndGlyphs">Hebron</text>
<text transform="translate(807.5,205.4) rotate(-90)" font-size="21.5" fill="#fff" textLength="135.0" lengthAdjust="spacingAndGlyphs">Pampoenpoort</text>
<text transform="translate(852.0,183.1) rotate(-90)" font-size="21.5" fill="#fff" textLength="105.7" lengthAdjust="spacingAndGlyphs">Uintjiesberg</text>
<text transform="translate(982.8,172.8) rotate(-90)" font-size="21.5" fill="#fff" textLength="97.2" lengthAdjust="spacingAndGlyphs">Lovedale-1</text>
<text transform="translate(1166.0,167.6) rotate(-90)" font-size="21.5" fill="#fff" textLength="72.2" lengthAdjust="spacingAndGlyphs">Witberg</text>
</g>
<rect x="695" y="222.3" width="96.7" height="28.2" fill="#fff" stroke="#111" stroke-width="1.6"/>
<text x="702.5" y="244" font-size="24.5" fill="#111" stroke="#111" stroke-width="0.45" textLength="82" lengthAdjust="spacingAndGlyphs">Group I</text>
<rect x="686.6" y="44" width="510.6" height="213.5" fill="none" stroke="#1a1a1a" stroke-width="3"/>
<line x1="679.5" y1="87.3" x2="686.6" y2="87.3" stroke="#1a1a1a" stroke-width="2.3"/>
<line x1="679.5" y1="129.9" x2="686.6" y2="129.9" stroke="#1a1a1a" stroke-width="2.3"/>
<line x1="679.5" y1="172.5" x2="686.6" y2="172.5" stroke="#1a1a1a" stroke-width="2.3"/>
<line x1="679.5" y1="215" x2="686.6" y2="215" stroke="#1a1a1a" stroke-width="2.3"/>
<line x1="679.5" y1="257.5" x2="686.6" y2="257.5" stroke="#1a1a1a" stroke-width="2.3"/>
<line x1="1197" y1="87.3" x2="1204" y2="87.3" stroke="#1a1a1a" stroke-width="2.3"/>
<line x1="1197" y1="129.9" x2="1204" y2="129.9" stroke="#1a1a1a" stroke-width="2.3"/>
<line x1="1197" y1="172.5" x2="1204" y2="172.5" stroke="#1a1a1a" stroke-width="2.3"/>
<line x1="1197" y1="215" x2="1204" y2="215" stroke="#1a1a1a" stroke-width="2.3"/>
<line x1="1197" y1="44" x2="1204" y2="44" stroke="#1a1a1a" stroke-width="2.3"/>
<line x1="770.4" y1="37.5" x2="770.4" y2="44" stroke="#1a1a1a" stroke-width="2.3"/>
<line x1="770.4" y1="257.5" x2="770.4" y2="263.5" stroke="#1a1a1a" stroke-width="2.3"/>
<line x1="940.6" y1="37.5" x2="940.6" y2="44" stroke="#1a1a1a" stroke-width="2.3"/>
<line x1="940.6" y1="257.5" x2="940.6" y2="263.5" stroke="#1a1a1a" stroke-width="2.3"/>
<line x1="1110.8" y1="37.5" x2="1110.8" y2="44" stroke="#1a1a1a" stroke-width="2.3"/>
<line x1="1110.8" y1="257.5" x2="1110.8" y2="263.5" stroke="#1a1a1a" stroke-width="2.3"/>
<text x="50.4" y="36.2" font-size="20" fill="#1a1a1a" font-weight="normal" text-anchor="start" textLength="32.8" lengthAdjust="spacingAndGlyphs" stroke="#1a1a1a" stroke-width="0.3">SW</text>
<text x="562.9" y="35.0" font-size="20" fill="#1a1a1a" font-weight="normal" text-anchor="start" textLength="27.6" lengthAdjust="spacingAndGlyphs" stroke="#1a1a1a" stroke-width="0.3">NE</text>
<text x="663.9" y="35.0" font-size="20" fill="#1a1a1a" font-weight="normal" text-anchor="start" textLength="32.8" lengthAdjust="spacingAndGlyphs" stroke="#1a1a1a" stroke-width="0.3">SW</text>
<text x="1180.2" y="35.0" font-size="20" fill="#1a1a1a" font-weight="normal" text-anchor="start" textLength="28.4" lengthAdjust="spacingAndGlyphs" stroke="#1a1a1a" stroke-width="0.3">NE</text>
<text x="21.2" y="94.7" font-size="20.5" fill="#505050" font-weight="normal" text-anchor="start" textLength="33.6" lengthAdjust="spacingAndGlyphs" >100</text>
<text x="638.0" y="94.7" font-size="20.5" fill="#505050" font-weight="normal" text-anchor="start" textLength="33.7" lengthAdjust="spacingAndGlyphs" >100</text>
<text x="21.2" y="180.7" font-size="20.5" fill="#505050" font-weight="normal" text-anchor="start" textLength="33.6" lengthAdjust="spacingAndGlyphs" >150</text>
<text x="638.0" y="180.7" font-size="20.5" fill="#505050" font-weight="normal" text-anchor="start" textLength="33.7" lengthAdjust="spacingAndGlyphs" >150</text>
<text x="21.2" y="265.7" font-size="20.5" fill="#505050" font-weight="normal" text-anchor="start" textLength="33.6" lengthAdjust="spacingAndGlyphs" >200</text>
<text x="638.0" y="265.7" font-size="20.5" fill="#505050" font-weight="normal" text-anchor="start" textLength="33.7" lengthAdjust="spacingAndGlyphs" >200</text>
<text x="139.2" y="283.6" font-size="20.5" fill="#505050" font-weight="normal" text-anchor="start" textLength="34.8" lengthAdjust="spacingAndGlyphs" >200</text>
<text x="311.0" y="283.6" font-size="20.5" fill="#505050" font-weight="normal" text-anchor="start" textLength="34.8" lengthAdjust="spacingAndGlyphs" >300</text>
<text x="477.7" y="283.6" font-size="20.5" fill="#505050" font-weight="normal" text-anchor="start" textLength="34.8" lengthAdjust="spacingAndGlyphs" >400</text>
<text x="752.5" y="283.6" font-size="20.5" fill="#505050" font-weight="normal" text-anchor="start" textLength="34.8" lengthAdjust="spacingAndGlyphs" >200</text>
<text x="923.4" y="283.6" font-size="20.5" fill="#505050" font-weight="normal" text-anchor="start" textLength="34.8" lengthAdjust="spacingAndGlyphs" >300</text>
<text x="1094.0" y="283.6" font-size="20.5" fill="#505050" font-weight="normal" text-anchor="start" textLength="34.8" lengthAdjust="spacingAndGlyphs" >400</text>
<text x="260.5" y="304.8" font-size="23.5" fill="#1a1a1a" font-weight="normal" text-anchor="start" textLength="150.0" lengthAdjust="spacingAndGlyphs" stroke="#1a1a1a" stroke-width="0.4">Distance (km)</text>
<text x="878.5" y="305.0" font-size="23.5" fill="#1a1a1a" font-weight="normal" text-anchor="start" textLength="149.5" lengthAdjust="spacingAndGlyphs" stroke="#1a1a1a" stroke-width="0.4">Distance (km)</text>
<text transform="translate(18.7,216.8) rotate(-90)" font-size="23.5" fill="#1a1a1a" stroke="#1a1a1a" stroke-width="0.4" textLength="118.6" lengthAdjust="spacingAndGlyphs">Depth (km)</text>
<text transform="translate(1229.8,218) rotate(-90)" font-size="24.5" fill="#1a1a1a" stroke="#1a1a1a" stroke-width="0.4" textLength="120" lengthAdjust="spacingAndGlyphs">Depth (km)</text>
</svg>
</body></html>
